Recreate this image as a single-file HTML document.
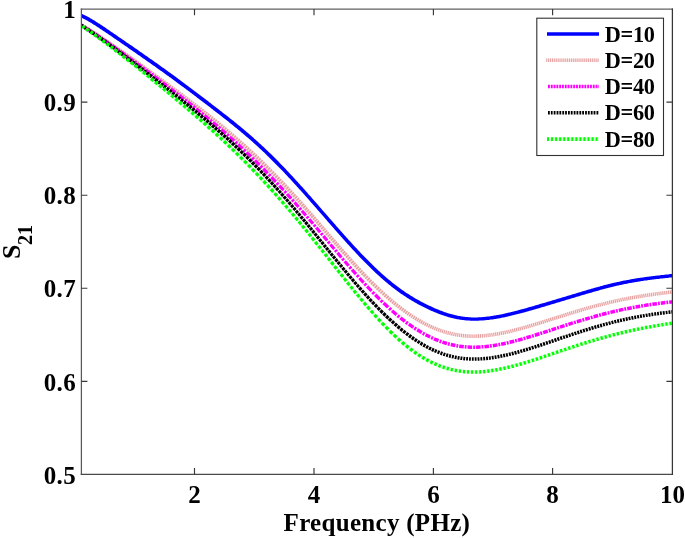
<!DOCTYPE html>
<html><head><meta charset="utf-8"><title>S21 vs Frequency</title>
<style>
html,body{margin:0;padding:0;background:#fff;}
svg{display:block}
text{font-family:"Liberation Serif",serif;font-weight:bold;fill:#000}
</style></head><body>
<svg width="685" height="538" viewBox="0 0 685 538">
<rect width="685" height="538" fill="#fff"/>
<clipPath id="ax"><rect x="81.4" y="9.05" width="591.0" height="465.3"/></clipPath>

<g clip-path="url(#ax)">
<path d="M79.4,22.2L80.4,22.8L81.4,23.5L82.4,24.2L83.4,24.8L84.4,25.5L85.4,26.2L86.4,26.9L87.4,27.6L88.4,28.2L89.4,28.9L90.4,29.6L91.4,30.3L92.4,31.0L93.4,31.8L94.4,32.5L95.4,33.2L96.4,33.9L97.4,34.6L98.4,35.3L99.4,36.1L100.4,36.8L101.4,37.5L102.4,38.3L103.4,39.0L104.4,39.8L105.4,40.5L106.4,41.2L107.4,42.0L108.5,42.7L109.5,43.5L110.5,44.3L111.5,45.0L112.5,45.8L113.5,46.5L114.5,47.3L115.5,48.1L116.5,48.8L117.5,49.6L118.5,50.4L119.5,51.1L120.5,51.9L121.5,52.7L122.5,53.5L123.5,54.3L124.5,55.0L125.5,55.8L126.5,56.6L127.5,57.4L128.5,58.2L129.5,59.0L130.5,59.8L131.5,60.5L132.5,61.3L133.5,62.1L134.5,62.9L135.5,63.7L136.5,64.5L137.5,65.3L138.5,66.1L139.5,66.9L140.5,67.7L141.5,68.5L142.5,69.3L143.5,70.1L144.5,70.9L145.5,71.8L146.5,72.6L147.5,73.4L148.5,74.2L149.5,75.0L150.5,75.8L151.5,76.6L152.5,77.4L153.5,78.2L154.5,79.1L155.5,79.9L156.5,80.7L157.5,81.5L158.5,82.3L159.5,83.2L160.5,84.0L161.5,84.8L162.5,85.6L163.5,86.4L164.5,87.3L165.5,88.1L166.5,88.9L167.5,89.8L168.5,90.6L169.5,91.4L170.5,92.2L171.5,93.1L172.5,93.9L173.5,94.7L174.5,95.6L175.5,96.4L176.5,97.3L177.5,98.1L178.5,98.9L179.5,99.8L180.5,100.6L181.5,101.5L182.5,102.3L183.5,103.2L184.5,104.0L185.5,104.8L186.5,105.7L187.5,106.5L188.5,107.4L189.5,108.3L190.5,109.1L191.5,110.0L192.5,110.8L193.5,111.7L194.5,112.6L195.5,113.4L196.5,114.3L197.5,115.2L198.5,116.0L199.5,116.9L200.5,117.8L201.5,118.7L202.5,119.5L203.5,120.4L204.5,121.3L205.5,122.2L206.5,123.1L207.5,124.0L208.5,124.8L209.5,125.7L210.5,126.6L211.5,127.5L212.5,128.4L213.5,129.3L214.5,130.3L215.5,131.2L216.5,132.1L217.5,133.0L218.5,133.9L219.5,134.8L220.5,135.8L221.5,136.7L222.5,137.6L223.5,138.6L224.5,139.5L225.5,140.4L226.6,141.4L227.6,142.3L228.6,143.3L229.6,144.2L230.6,145.2L231.6,146.1L232.6,147.1L233.6,148.1L234.6,149.0L235.6,150.0L236.6,151.0L237.6,152.0L238.6,152.9L239.6,153.9L240.6,154.9L241.6,155.9L242.6,156.9L243.6,157.9L244.6,158.9L245.6,159.9L246.6,160.9L247.6,161.9L248.6,163.0L249.6,164.0L250.6,165.0L251.6,166.0L252.6,167.1L253.6,168.1L254.6,169.2L255.6,170.2L256.6,171.2L257.6,172.3L258.6,173.4L259.6,174.4L260.6,175.5L261.6,176.6L262.6,177.6L263.6,178.7L264.6,179.8L265.6,180.9L266.6,181.9L267.6,183.0L268.6,184.1L269.6,185.2L270.6,186.3L271.6,187.4L272.6,188.6L273.6,189.7L274.6,190.8L275.6,191.9L276.6,193.0L277.6,194.2L278.6,195.3L279.6,196.4L280.6,197.6L281.6,198.7L282.6,199.9L283.6,201.0L284.6,202.2L285.6,203.3L286.6,204.5L287.6,205.7L288.6,206.9L289.6,208.0L290.6,209.2L291.6,210.4L292.6,211.6L293.6,212.8L294.6,214.0L295.6,215.2L296.6,216.4L297.6,217.6L298.6,218.8L299.6,220.0L300.6,221.2L301.6,222.4L302.6,223.6L303.6,224.9L304.6,226.1L305.6,227.3L306.6,228.5L307.6,229.8L308.6,231.0L309.6,232.3L310.6,233.5L311.6,234.8L312.6,236.0L313.6,237.2L314.7,238.5L315.7,239.8L316.7,241.0L317.7,242.3L318.7,243.5L319.7,244.8L320.7,246.1L321.7,247.3L322.7,248.6L323.7,249.8L324.7,251.1L325.7,252.4L326.7,253.6L327.7,254.9L328.7,256.2L329.7,257.5L330.7,258.7L331.7,260.0L332.7,261.3L333.7,262.5L334.7,263.8L335.7,265.1L336.7,266.3L337.7,267.6L338.7,268.9L339.7,270.1L340.7,271.4L341.7,272.7L342.7,273.9L343.7,275.2L344.7,276.4L345.7,277.7L346.7,278.9L347.6,280.2L348.6,281.4L349.6,282.7L350.6,283.9L351.6,285.2L352.6,286.4L353.6,287.6L354.6,288.9L355.6,290.1L356.6,291.3L357.6,292.5L358.6,293.8L359.6,295.0L360.6,296.2L361.6,297.4L362.6,298.6L363.6,299.8L364.6,300.9L365.6,302.1L366.6,303.3L367.6,304.5L368.6,305.6L369.6,306.8L370.6,307.9L371.6,309.1L372.6,310.2L373.6,311.4L374.6,312.5L375.6,313.6L376.6,314.7L377.6,315.8L378.6,316.9L379.6,318.0L380.6,319.1L381.6,320.2L382.6,321.2L383.6,322.3L384.6,323.3L385.6,324.4L386.6,325.4L387.6,326.4L388.6,327.4L389.6,328.4L390.6,329.4L391.6,330.4L392.6,331.3L393.6,332.3L394.6,333.2L395.6,334.2L396.5,335.1L397.5,336.0L398.5,336.9L399.5,337.8L400.5,338.7L401.5,339.6L402.5,340.4L403.5,341.3L404.5,342.1L405.5,343.0L406.5,343.8L407.5,344.6L408.5,345.4L409.5,346.1L410.5,346.9L411.5,347.7L412.4,348.4L413.4,349.1L414.4,349.9L415.4,350.6L416.4,351.3L417.4,352.0L418.4,352.6L419.4,353.3L420.4,353.9L421.3,354.6L422.3,355.2L423.3,355.8L424.3,356.4L425.3,357.0L426.3,357.5L427.3,358.1L428.2,358.6L429.2,359.2L430.2,359.7L431.2,360.2L432.2,360.7L433.2,361.2L434.1,361.6L435.1,362.1L436.1,362.5L437.1,362.9L438.1,363.4L439.1,363.8L440.0,364.1L441.0,364.5L442.0,364.9L443.0,365.2L444.0,365.6L444.9,365.9L445.9,366.2L446.9,366.5L447.9,366.8L448.9,367.1L449.8,367.4L450.8,367.6L451.8,367.9L452.8,368.1L453.8,368.3L454.8,368.5L455.7,368.7L456.7,368.9L457.7,369.1L458.7,369.2L459.7,369.4L460.6,369.5L461.6,369.6L462.6,369.7L463.6,369.9L464.6,369.9L465.5,370.0L466.5,370.1L467.5,370.2L468.5,370.2L469.5,370.3L470.4,370.3L471.4,370.3L472.4,370.3L473.4,370.3L474.4,370.3L475.4,370.3L476.3,370.3L477.3,370.3L478.3,370.2L479.3,370.2L480.3,370.1L481.3,370.0L482.3,370.0L483.2,369.9L484.2,369.8L485.2,369.7L486.2,369.6L487.2,369.5L488.2,369.3L489.2,369.2L490.2,369.1L491.1,368.9L492.1,368.8L493.1,368.6L494.1,368.5L495.1,368.3L496.1,368.1L497.1,368.0L498.1,367.8L499.1,367.6L500.1,367.4L501.0,367.2L502.0,367.0L503.0,366.7L504.0,366.5L505.0,366.3L506.0,366.1L507.0,365.8L508.0,365.6L509.0,365.4L510.0,365.1L511.0,364.9L512.0,364.6L513.0,364.3L513.9,364.1L514.9,363.8L515.9,363.5L516.9,363.3L517.9,363.0L518.9,362.7L519.9,362.4L520.9,362.1L521.9,361.8L522.9,361.5L523.9,361.2L524.9,360.9L525.9,360.6L526.9,360.3L527.9,360.0L528.9,359.7L529.9,359.4L530.9,359.1L531.9,358.8L532.9,358.4L533.9,358.1L534.9,357.8L535.9,357.5L536.9,357.2L537.9,356.8L538.9,356.5L539.8,356.2L540.8,355.8L541.8,355.5L542.8,355.2L543.8,354.8L544.8,354.5L545.8,354.2L546.8,353.8L547.8,353.5L548.8,353.1L549.8,352.8L550.8,352.5L551.8,352.1L552.8,351.8L553.8,351.5L554.8,351.1L555.8,350.8L556.8,350.4L557.8,350.1L558.8,349.8L559.8,349.4L560.8,349.1L561.8,348.7L562.8,348.4L563.8,348.1L564.8,347.7L565.8,347.4L566.8,347.1L567.8,346.7L568.8,346.4L569.8,346.1L570.8,345.7L571.9,345.4L572.9,345.1L573.9,344.7L574.9,344.4L575.9,344.1L576.9,343.7L577.9,343.4L578.9,343.1L579.9,342.8L580.9,342.5L581.9,342.1L582.9,341.8L583.9,341.5L584.9,341.2L585.9,340.9L586.9,340.6L587.9,340.3L588.9,339.9L589.9,339.6L590.9,339.3L591.9,339.0L592.9,338.7L593.9,338.4L594.9,338.1L595.9,337.8L596.9,337.6L597.9,337.3L598.9,337.0L599.9,336.7L600.9,336.4L601.9,336.1L602.9,335.8L603.9,335.6L604.9,335.3L605.9,335.0L606.9,334.7L607.9,334.5L609.0,334.2L610.0,333.9L611.0,333.7L612.0,333.4L613.0,333.1L614.0,332.9L615.0,332.6L616.0,332.4L617.0,332.1L618.0,331.9L619.0,331.6L620.0,331.4L621.0,331.2L622.0,330.9L623.0,330.7L624.0,330.4L625.0,330.2L626.0,330.0L627.0,329.7L628.0,329.5L629.0,329.3L630.0,329.1L631.0,328.9L632.0,328.6L633.0,328.4L634.0,328.2L635.0,328.0L636.0,327.8L637.0,327.6L638.1,327.4L639.1,327.2L640.1,327.0L641.1,326.8L642.1,326.6L643.1,326.4L644.1,326.2L645.1,326.0L646.1,325.8L647.1,325.6L648.1,325.4L649.1,325.3L650.1,325.1L651.1,324.9L652.1,324.7L653.1,324.5L654.1,324.4L655.1,324.2L656.1,324.0L657.1,323.8L658.1,323.7L659.1,323.5L660.1,323.3L661.1,323.2L662.1,323.0L663.1,322.8L664.1,322.7L665.1,322.5L666.1,322.3L667.1,322.2L668.1,322.0L669.1,321.9L670.1,321.7L671.1,321.6L672.1,321.4L673.1,321.2L674.1,321.1L675.1,320.9L675.7,324.4L674.7,324.5L673.7,324.7L672.7,324.9L671.7,325.0L670.7,325.2L669.7,325.3L668.7,325.5L667.7,325.6L666.7,325.8L665.7,326.0L664.7,326.1L663.7,326.3L662.7,326.5L661.7,326.6L660.7,326.8L659.7,326.9L658.7,327.1L657.7,327.3L656.7,327.5L655.7,327.6L654.7,327.8L653.7,328.0L652.7,328.2L651.7,328.3L650.7,328.5L649.7,328.7L648.7,328.9L647.7,329.1L646.7,329.3L645.7,329.4L644.7,329.6L643.7,329.8L642.7,330.0L641.7,330.2L640.7,330.4L639.7,330.6L638.7,330.8L637.8,331.0L636.8,331.2L635.8,331.4L634.8,331.6L633.8,331.8L632.8,332.1L631.8,332.3L630.8,332.5L629.8,332.7L628.8,332.9L627.8,333.2L626.8,333.4L625.8,333.6L624.8,333.8L623.8,334.1L622.8,334.3L621.8,334.6L620.8,334.8L619.8,335.0L618.8,335.3L617.8,335.5L616.8,335.8L615.8,336.0L614.8,336.3L613.8,336.5L612.8,336.8L611.8,337.1L610.8,337.3L609.8,337.6L608.9,337.8L607.9,338.1L606.9,338.4L605.9,338.7L604.9,338.9L603.9,339.2L602.9,339.5L601.9,339.8L600.9,340.1L599.9,340.3L598.9,340.6L597.9,340.9L596.9,341.2L595.9,341.5L594.9,341.8L593.9,342.1L592.9,342.4L591.9,342.7L590.9,343.0L589.9,343.3L588.9,343.6L587.9,343.9L586.9,344.2L585.9,344.5L584.9,344.8L583.9,345.2L582.9,345.5L581.9,345.8L580.9,346.1L579.9,346.4L578.9,346.8L577.9,347.1L576.9,347.4L575.9,347.7L574.9,348.1L573.9,348.4L572.9,348.7L572.0,349.0L571.0,349.4L570.0,349.7L569.0,350.0L568.0,350.4L567.0,350.7L566.0,351.0L565.0,351.4L564.0,351.7L563.0,352.1L562.0,352.4L561.0,352.7L560.0,353.1L559.0,353.4L558.0,353.7L557.0,354.1L556.0,354.4L555.0,354.8L554.0,355.1L553.0,355.4L552.0,355.8L551.0,356.1L550.0,356.5L549.0,356.8L548.0,357.1L547.0,357.5L546.0,357.8L545.0,358.2L544.0,358.5L543.0,358.8L542.0,359.2L541.0,359.5L539.9,359.8L538.9,360.1L537.9,360.5L536.9,360.8L535.9,361.1L534.9,361.5L533.9,361.8L532.9,362.1L531.9,362.4L530.9,362.7L529.9,363.0L528.9,363.4L527.9,363.7L526.9,364.0L525.9,364.3L524.9,364.6L523.9,364.9L522.9,365.2L521.9,365.5L520.9,365.8L519.9,366.1L518.9,366.3L517.9,366.6L516.9,366.9L515.9,367.2L514.9,367.5L513.8,367.7L512.8,368.0L511.8,368.2L510.8,368.5L509.8,368.8L508.8,369.0L507.8,369.2L506.8,369.5L505.8,369.7L504.8,369.9L503.8,370.2L502.8,370.4L501.8,370.6L500.7,370.8L499.7,371.0L498.7,371.2L497.7,371.4L496.7,371.6L495.7,371.8L494.7,371.9L493.7,372.1L492.7,372.3L491.7,372.4L490.6,372.6L489.6,372.7L488.6,372.8L487.6,372.9L486.6,373.1L485.6,373.2L484.6,373.3L483.6,373.4L482.5,373.5L481.5,373.5L480.5,373.6L479.5,373.7L478.5,373.7L477.5,373.8L476.5,373.8L475.4,373.8L474.4,373.8L473.4,373.8L472.4,373.8L471.4,373.8L470.4,373.8L469.3,373.8L468.3,373.7L467.3,373.7L466.3,373.6L465.3,373.5L464.2,373.4L463.2,373.3L462.2,373.2L461.2,373.1L460.2,373.0L459.1,372.8L458.1,372.7L457.1,372.5L456.1,372.3L455.1,372.1L454.0,371.9L453.0,371.7L452.0,371.5L451.0,371.3L450.0,371.0L449.0,370.7L447.9,370.5L446.9,370.2L445.9,369.9L444.9,369.6L443.9,369.2L442.8,368.9L441.8,368.5L440.8,368.2L439.8,367.8L438.8,367.4L437.7,367.0L436.7,366.6L435.7,366.2L434.7,365.7L433.7,365.3L432.7,364.8L431.6,364.3L430.6,363.8L429.6,363.3L428.6,362.8L427.6,362.3L426.6,361.7L425.5,361.1L424.5,360.6L423.5,360.0L422.5,359.4L421.5,358.8L420.5,358.2L419.5,357.5L418.4,356.9L417.4,356.2L416.4,355.5L415.4,354.8L414.4,354.1L413.4,353.4L412.4,352.7L411.4,352.0L410.4,351.2L409.3,350.4L408.3,349.7L407.3,348.9L406.3,348.1L405.3,347.3L404.3,346.4L403.3,345.6L402.3,344.8L401.3,343.9L400.3,343.0L399.3,342.1L398.3,341.3L397.3,340.4L396.3,339.4L395.3,338.5L394.3,337.6L393.2,336.6L392.2,335.7L391.2,334.7L390.2,333.7L389.2,332.7L388.2,331.7L387.2,330.7L386.2,329.7L385.2,328.7L384.2,327.7L383.2,326.6L382.2,325.6L381.2,324.5L380.2,323.4L379.2,322.4L378.2,321.3L377.2,320.2L376.2,319.1L375.2,318.0L374.2,316.9L373.2,315.8L372.2,314.6L371.2,313.5L370.2,312.3L369.2,311.2L368.2,310.0L367.2,308.9L366.2,307.7L365.2,306.6L364.2,305.4L363.2,304.2L362.2,303.0L361.2,301.8L360.2,300.6L359.2,299.4L358.2,298.2L357.2,297.0L356.2,295.8L355.2,294.6L354.2,293.3L353.2,292.1L352.2,290.9L351.2,289.7L350.2,288.4L349.2,287.2L348.2,285.9L347.2,284.7L346.2,283.4L345.2,282.2L344.1,280.9L343.1,279.7L342.1,278.4L341.1,277.2L340.1,275.9L339.1,274.6L338.1,273.4L337.1,272.1L336.1,270.9L335.1,269.6L334.1,268.3L333.1,267.1L332.1,265.8L331.1,264.5L330.1,263.2L329.1,262.0L328.1,260.7L327.1,259.4L326.1,258.2L325.1,256.9L324.1,255.6L323.1,254.4L322.1,253.1L321.1,251.8L320.1,250.6L319.1,249.3L318.1,248.0L317.1,246.8L316.1,245.5L315.1,244.3L314.1,243.0L313.1,241.7L312.1,240.5L311.2,239.2L310.2,238.0L309.2,236.8L308.2,235.5L307.2,234.3L306.2,233.0L305.2,231.8L304.2,230.6L303.2,229.3L302.2,228.1L301.2,226.9L300.2,225.7L299.2,224.4L298.2,223.2L297.2,222.0L296.2,220.8L295.2,219.6L294.2,218.4L293.2,217.2L292.2,216.0L291.2,214.8L290.2,213.6L289.2,212.5L288.2,211.3L287.2,210.1L286.2,208.9L285.2,207.8L284.2,206.6L283.2,205.4L282.2,204.3L281.2,203.1L280.2,202.0L279.2,200.8L278.2,199.7L277.2,198.6L276.2,197.4L275.2,196.3L274.2,195.2L273.2,194.1L272.2,192.9L271.2,191.8L270.2,190.7L269.2,189.6L268.2,188.5L267.2,187.4L266.2,186.3L265.2,185.2L264.2,184.1L263.2,183.1L262.2,182.0L261.2,180.9L260.2,179.8L259.2,178.8L258.2,177.7L257.2,176.7L256.2,175.6L255.2,174.6L254.2,173.5L253.2,172.5L252.2,171.4L251.2,170.4L250.2,169.4L249.2,168.3L248.2,167.3L247.2,166.3L246.2,165.3L245.2,164.3L244.2,163.3L243.2,162.3L242.2,161.2L241.2,160.3L240.2,159.3L239.2,158.3L238.2,157.3L237.2,156.3L236.2,155.3L235.2,154.3L234.2,153.4L233.2,152.4L232.2,151.4L231.2,150.5L230.2,149.5L229.2,148.5L228.2,147.6L227.2,146.6L226.2,145.7L225.2,144.8L224.2,143.8L223.3,142.9L222.3,141.9L221.3,141.0L220.3,140.1L219.3,139.2L218.3,138.2L217.3,137.3L216.3,136.4L215.3,135.5L214.3,134.6L213.3,133.7L212.3,132.8L211.3,131.9L210.3,131.0L209.3,130.1L208.3,129.2L207.3,128.3L206.3,127.4L205.3,126.5L204.3,125.6L203.3,124.7L202.3,123.8L201.3,123.0L200.3,122.1L199.3,121.2L198.3,120.3L197.3,119.5L196.3,118.6L195.3,117.7L194.3,116.9L193.3,116.0L192.3,115.1L191.3,114.3L190.3,113.4L189.3,112.6L188.3,111.7L187.3,110.9L186.3,110.0L185.3,109.2L184.3,108.3L183.3,107.5L182.3,106.6L181.3,105.8L180.3,104.9L179.3,104.1L178.3,103.2L177.3,102.4L176.3,101.6L175.3,100.7L174.3,99.9L173.3,99.1L172.3,98.2L171.3,97.4L170.3,96.6L169.3,95.7L168.3,94.9L167.3,94.1L166.3,93.2L165.3,92.4L164.3,91.6L163.3,90.8L162.3,89.9L161.3,89.1L160.3,88.3L159.3,87.5L158.3,86.6L157.3,85.8L156.3,85.0L155.3,84.2L154.3,83.4L153.3,82.6L152.3,81.7L151.3,80.9L150.3,80.1L149.3,79.3L148.3,78.5L147.3,77.7L146.3,76.9L145.3,76.1L144.3,75.3L143.3,74.4L142.3,73.6L141.3,72.8L140.3,72.0L139.3,71.2L138.3,70.4L137.3,69.6L136.3,68.8L135.3,68.0L134.3,67.2L133.3,66.4L132.3,65.6L131.3,64.9L130.3,64.1L129.3,63.3L128.3,62.5L127.3,61.7L126.3,60.9L125.3,60.1L124.3,59.3L123.3,58.6L122.3,57.8L121.3,57.0L120.3,56.2L119.3,55.4L118.3,54.7L117.3,53.9L116.3,53.1L115.3,52.4L114.3,51.6L113.3,50.8L112.3,50.1L111.3,49.3L110.3,48.6L109.3,47.8L108.3,47.0L107.3,46.3L106.3,45.5L105.4,44.8L104.4,44.0L103.4,43.3L102.4,42.6L101.4,41.8L100.4,41.1L99.4,40.4L98.4,39.6L97.4,38.9L96.4,38.2L95.4,37.5L94.4,36.7L93.4,36.0L92.4,35.3L91.4,34.6L90.4,33.9L89.4,33.2L88.4,32.5L87.4,31.8L86.4,31.1L85.4,30.4L84.4,29.8L83.4,29.1L82.4,28.4L81.4,27.7L80.4,27.1L79.4,26.4L78.4,25.7L77.4,25.1Z" fill="#dffcdf"/>
<path d="M79.3,21.6L80.3,22.2L81.3,22.8L82.3,23.4L83.3,24.0L84.3,24.6L85.3,25.2L86.3,25.8L87.3,26.5L88.4,27.1L89.4,27.7L90.4,28.3L91.4,29.0L92.4,29.6L93.4,30.3L94.4,30.9L95.4,31.6L96.4,32.2L97.4,32.9L98.4,33.5L99.4,34.2L100.4,34.8L101.4,35.5L102.4,36.1L103.4,36.8L104.4,37.5L105.4,38.1L106.4,38.8L107.4,39.5L108.4,40.2L109.4,40.8L110.4,41.5L111.4,42.2L112.4,42.9L113.4,43.6L114.4,44.3L115.4,44.9L116.4,45.6L117.4,46.3L118.4,47.0L119.4,47.7L120.4,48.4L121.4,49.1L122.4,49.8L123.4,50.5L124.4,51.2L125.4,51.9L126.4,52.6L127.4,53.3L128.4,54.0L129.4,54.7L130.4,55.4L131.4,56.1L132.4,56.8L133.4,57.5L134.4,58.3L135.4,59.0L136.4,59.7L137.4,60.4L138.4,61.1L139.4,61.8L140.4,62.5L141.4,63.3L142.4,64.0L143.4,64.7L144.4,65.4L145.5,66.1L146.5,66.8L147.5,67.6L148.5,68.3L149.5,69.0L150.5,69.7L151.5,70.4L152.5,71.2L153.5,71.9L154.5,72.6L155.5,73.3L156.5,74.1L157.5,74.8L158.5,75.5L159.5,76.3L160.5,77.0L161.5,77.7L162.5,78.4L163.5,79.2L164.5,79.9L165.5,80.6L166.5,81.4L167.5,82.1L168.5,82.8L169.5,83.6L170.5,84.3L171.5,85.0L172.5,85.8L173.5,86.5L174.5,87.3L175.5,88.0L176.5,88.7L177.5,89.5L178.5,90.2L179.5,91.0L180.5,91.7L181.5,92.5L182.5,93.2L183.5,93.9L184.5,94.7L185.5,95.4L186.5,96.2L187.5,97.0L188.5,97.7L189.5,98.5L190.5,99.2L191.5,100.0L192.5,100.7L193.5,101.5L194.5,102.3L195.5,103.0L196.5,103.8L197.5,104.6L198.5,105.3L199.5,106.1L200.5,106.9L201.5,107.6L202.5,108.4L203.5,109.2L204.5,110.0L205.5,110.8L206.5,111.5L207.5,112.3L208.5,113.1L209.5,113.9L210.5,114.7L211.5,115.5L212.5,116.3L213.5,117.1L214.5,117.9L215.5,118.7L216.5,119.5L217.5,120.3L218.5,121.2L219.6,122.0L220.6,122.8L221.6,123.6L222.6,124.4L223.6,125.3L224.6,126.1L225.6,126.9L226.6,127.8L227.6,128.6L228.6,129.5L229.6,130.3L230.6,131.2L231.6,132.0L232.6,132.9L233.6,133.7L234.6,134.6L235.6,135.5L236.6,136.3L237.6,137.2L238.6,138.1L239.6,139.0L240.6,139.9L241.6,140.8L242.6,141.6L243.6,142.5L244.6,143.4L245.6,144.3L246.6,145.3L247.6,146.2L248.6,147.1L249.6,148.0L250.6,148.9L251.7,149.8L252.7,150.8L253.7,151.7L254.7,152.7L255.7,153.6L256.7,154.5L257.7,155.5L258.7,156.4L259.7,157.4L260.7,158.4L261.7,159.3L262.7,160.3L263.7,161.3L264.7,162.2L265.7,163.2L266.7,164.2L267.7,165.2L268.7,166.2L269.7,167.2L270.7,168.2L271.7,169.2L272.7,170.2L273.7,171.2L274.7,172.2L275.7,173.3L276.7,174.3L277.7,175.3L278.7,176.4L279.7,177.4L280.8,178.4L281.8,179.5L282.8,180.5L283.8,181.6L284.8,182.6L285.8,183.7L286.8,184.8L287.8,185.8L288.8,186.9L289.8,188.0L290.8,189.1L291.8,190.2L292.8,191.3L293.8,192.4L294.8,193.5L295.8,194.6L296.8,195.7L297.8,196.8L298.8,197.9L299.8,199.0L300.8,200.1L301.8,201.2L302.8,202.4L303.8,203.5L304.8,204.6L305.8,205.8L306.8,206.9L307.8,208.0L308.8,209.2L309.8,210.3L310.8,211.5L311.8,212.6L312.8,213.8L313.8,214.9L314.8,216.1L315.8,217.3L316.8,218.4L317.8,219.6L318.8,220.7L319.8,221.9L320.8,223.1L321.8,224.2L322.8,225.4L323.8,226.6L324.8,227.7L325.8,228.9L326.8,230.1L327.8,231.2L328.8,232.4L329.8,233.5L330.8,234.7L331.8,235.9L332.8,237.0L333.8,238.2L334.8,239.3L335.8,240.5L336.8,241.7L337.8,242.8L338.8,244.0L339.8,245.1L340.8,246.3L341.8,247.4L342.8,248.5L343.8,249.7L344.8,250.8L345.8,252.0L346.8,253.1L347.8,254.2L348.8,255.3L349.8,256.4L350.8,257.6L351.8,258.7L352.8,259.8L353.8,260.9L354.8,262.0L355.8,263.1L356.8,264.2L357.8,265.2L358.8,266.3L359.8,267.4L360.8,268.5L361.8,269.5L362.8,270.6L363.8,271.6L364.8,272.7L365.8,273.7L366.7,274.8L367.7,275.8L368.7,276.8L369.7,277.8L370.7,278.9L371.7,279.9L372.7,280.9L373.7,281.8L374.7,282.8L375.7,283.8L376.7,284.8L377.7,285.7L378.7,286.7L379.7,287.6L380.7,288.6L381.7,289.5L382.7,290.5L383.6,291.4L384.6,292.3L385.6,293.2L386.6,294.1L387.6,295.0L388.6,295.8L389.6,296.7L390.6,297.6L391.6,298.4L392.6,299.3L393.6,300.1L394.6,300.9L395.6,301.8L396.5,302.6L397.5,303.4L398.5,304.2L399.5,305.0L400.5,305.7L401.5,306.5L402.5,307.3L403.5,308.0L404.5,308.7L405.5,309.5L406.5,310.2L407.4,310.9L408.4,311.6L409.4,312.3L410.4,312.9L411.4,313.6L412.4,314.3L413.4,314.9L414.4,315.6L415.4,316.2L416.3,316.8L417.3,317.4L418.3,318.0L419.3,318.6L420.3,319.2L421.3,319.7L422.3,320.3L423.3,320.8L424.3,321.4L425.2,321.9L426.2,322.4L427.2,322.9L428.2,323.4L429.2,323.9L430.2,324.4L431.2,324.8L432.1,325.3L433.1,325.7L434.1,326.2L435.1,326.6L436.1,327.0L437.1,327.4L438.0,327.8L439.0,328.1L440.0,328.5L441.0,328.8L442.0,329.2L443.0,329.5L443.9,329.8L444.9,330.1L445.9,330.4L446.9,330.7L447.9,331.0L448.9,331.3L449.8,331.5L450.8,331.8L451.8,332.0L452.8,332.2L453.8,332.4L454.7,332.6L455.7,332.8L456.7,333.0L457.7,333.1L458.7,333.3L459.7,333.4L460.6,333.6L461.6,333.7L462.6,333.8L463.6,333.9L464.6,334.0L465.5,334.1L466.5,334.1L467.5,334.2L468.5,334.3L469.5,334.3L470.5,334.3L471.4,334.4L472.4,334.4L473.4,334.4L474.4,334.4L475.4,334.4L476.4,334.3L477.3,334.3L478.3,334.3L479.3,334.2L480.3,334.2L481.3,334.1L482.3,334.0L483.3,334.0L484.2,333.9L485.2,333.8L486.2,333.7L487.2,333.6L488.2,333.5L489.2,333.3L490.2,333.2L491.2,333.1L492.1,332.9L493.1,332.8L494.1,332.6L495.1,332.5L496.1,332.3L497.1,332.1L498.1,332.0L499.1,331.8L500.1,331.6L501.1,331.4L502.0,331.2L503.0,331.0L504.0,330.8L505.0,330.6L506.0,330.4L507.0,330.2L508.0,329.9L509.0,329.7L510.0,329.5L511.0,329.2L512.0,329.0L513.0,328.7L514.0,328.5L515.0,328.2L515.9,328.0L516.9,327.7L517.9,327.4L518.9,327.2L519.9,326.9L520.9,326.6L521.9,326.4L522.9,326.1L523.9,325.8L524.9,325.5L525.9,325.2L526.9,324.9L527.9,324.7L528.9,324.4L529.9,324.1L530.9,323.8L531.9,323.5L532.9,323.2L533.9,322.9L534.9,322.6L535.9,322.3L536.9,321.9L537.9,321.6L538.9,321.3L539.9,321.0L540.9,320.7L541.9,320.4L542.9,320.1L543.9,319.8L544.9,319.5L545.9,319.1L546.9,318.8L547.9,318.5L548.9,318.2L549.9,317.9L550.9,317.6L551.9,317.2L552.9,316.9L553.9,316.6L554.9,316.3L555.9,316.0L556.9,315.6L557.9,315.3L558.9,315.0L559.9,314.7L560.9,314.4L561.9,314.1L562.9,313.7L563.9,313.4L564.9,313.1L565.9,312.8L566.9,312.5L567.9,312.2L568.9,311.9L569.9,311.6L570.9,311.2L571.9,310.9L572.9,310.6L573.9,310.3L574.9,310.0L575.9,309.7L576.9,309.4L577.9,309.1L578.9,308.8L579.9,308.5L580.9,308.2L581.9,307.9L582.9,307.6L583.9,307.4L584.9,307.1L585.9,306.8L586.9,306.5L587.9,306.2L588.9,305.9L589.9,305.6L590.9,305.4L591.9,305.1L592.9,304.8L593.9,304.5L594.9,304.3L595.9,304.0L596.9,303.7L597.9,303.5L598.9,303.2L600.0,303.0L601.0,302.7L602.0,302.4L603.0,302.2L604.0,301.9L605.0,301.7L606.0,301.4L607.0,301.2L608.0,301.0L609.0,300.7L610.0,300.5L611.0,300.2L612.0,300.0L613.0,299.8L614.0,299.6L615.0,299.3L616.0,299.1L617.0,298.9L618.0,298.7L619.0,298.5L620.0,298.2L621.0,298.0L622.0,297.8L623.0,297.6L624.0,297.4L625.0,297.2L626.1,297.0L627.1,296.8L628.1,296.6L629.1,296.4L630.1,296.2L631.1,296.1L632.1,295.9L633.1,295.7L634.1,295.5L635.1,295.3L636.1,295.2L637.1,295.0L638.1,294.8L639.1,294.7L640.1,294.5L641.1,294.3L642.1,294.2L643.1,294.0L644.1,293.8L645.1,293.7L646.1,293.5L647.1,293.4L648.1,293.2L649.1,293.1L650.1,292.9L651.1,292.8L652.2,292.7L653.2,292.5L654.2,292.4L655.2,292.2L656.2,292.1L657.2,292.0L658.2,291.9L659.2,291.7L660.2,291.6L661.2,291.5L662.2,291.4L663.2,291.2L664.2,291.1L665.2,291.0L666.2,290.9L667.2,290.8L668.2,290.6L669.2,290.5L670.2,290.4L671.2,290.3L672.2,290.2L673.2,290.1L674.2,290.0L675.2,289.9L675.6,293.4L674.6,293.6L673.6,293.7L672.6,293.8L671.6,293.9L670.6,294.0L669.6,294.1L668.6,294.2L667.6,294.3L666.6,294.4L665.6,294.6L664.6,294.7L663.6,294.8L662.6,294.9L661.6,295.0L660.6,295.2L659.6,295.3L658.6,295.4L657.6,295.6L656.6,295.7L655.6,295.8L654.6,296.0L653.6,296.1L652.6,296.2L651.7,296.4L650.7,296.5L649.7,296.7L648.7,296.8L647.7,296.9L646.7,297.1L645.7,297.2L644.7,297.4L643.7,297.6L642.7,297.7L641.7,297.9L640.7,298.0L639.7,298.2L638.7,298.4L637.7,298.5L636.7,298.7L635.7,298.9L634.7,299.1L633.7,299.2L632.7,299.4L631.7,299.6L630.7,299.8L629.7,300.0L628.7,300.2L627.7,300.4L626.7,300.5L625.8,300.7L624.8,300.9L623.8,301.1L622.8,301.4L621.8,301.6L620.8,301.8L619.8,302.0L618.8,302.2L617.8,302.4L616.8,302.6L615.8,302.8L614.8,303.1L613.8,303.3L612.8,303.5L611.8,303.8L610.8,304.0L609.8,304.2L608.8,304.5L607.8,304.7L606.8,304.9L605.8,305.2L604.8,305.4L603.8,305.7L602.8,305.9L601.8,306.2L600.8,306.4L599.9,306.7L598.9,307.0L597.9,307.2L596.9,307.5L595.9,307.8L594.9,308.0L593.9,308.3L592.9,308.6L591.9,308.8L590.9,309.1L589.9,309.4L588.9,309.7L587.9,310.0L586.9,310.2L585.9,310.5L584.9,310.8L583.9,311.1L582.9,311.4L581.9,311.7L580.9,312.0L579.9,312.3L578.9,312.6L577.9,312.9L576.9,313.2L575.9,313.5L574.9,313.8L573.9,314.1L572.9,314.4L571.9,314.7L570.9,315.0L569.9,315.3L568.9,315.6L567.9,315.9L566.9,316.2L565.9,316.5L564.9,316.9L563.9,317.2L562.9,317.5L561.9,317.8L560.9,318.1L559.9,318.4L558.9,318.8L557.9,319.1L556.9,319.4L555.9,319.7L554.9,320.0L553.9,320.3L552.9,320.7L551.9,321.0L550.9,321.3L549.9,321.6L548.9,321.9L547.9,322.3L546.9,322.6L545.9,322.9L544.9,323.2L543.9,323.5L542.9,323.8L541.9,324.1L540.9,324.5L539.9,324.8L538.9,325.1L537.9,325.4L536.9,325.7L535.9,326.0L534.9,326.3L533.9,326.6L532.9,326.9L531.9,327.2L530.9,327.5L529.9,327.8L528.9,328.1L527.9,328.4L526.9,328.7L525.9,329.0L524.9,329.3L523.9,329.5L522.9,329.8L521.9,330.1L520.9,330.4L519.9,330.7L518.9,330.9L517.9,331.2L516.9,331.5L515.8,331.7L514.8,332.0L513.8,332.2L512.8,332.5L511.8,332.7L510.8,333.0L509.8,333.2L508.8,333.4L507.8,333.7L506.8,333.9L505.8,334.1L504.8,334.3L503.8,334.5L502.8,334.7L501.7,334.9L500.7,335.1L499.7,335.3L498.7,335.5L497.7,335.7L496.7,335.9L495.7,336.0L494.7,336.2L493.7,336.4L492.7,336.5L491.6,336.6L490.6,336.8L489.6,336.9L488.6,337.0L487.6,337.2L486.6,337.3L485.6,337.4L484.6,337.5L483.5,337.5L482.5,337.6L481.5,337.7L480.5,337.8L479.5,337.8L478.5,337.9L477.5,337.9L476.4,337.9L475.4,338.0L474.4,338.0L473.4,338.0L472.4,338.0L471.4,338.0L470.3,337.9L469.3,337.9L468.3,337.9L467.3,337.8L466.3,337.7L465.3,337.7L464.2,337.6L463.2,337.5L462.2,337.4L461.2,337.3L460.2,337.1L459.1,337.0L458.1,336.8L457.1,336.7L456.1,336.5L455.1,336.3L454.1,336.1L453.0,335.9L452.0,335.7L451.0,335.5L450.0,335.3L449.0,335.0L447.9,334.7L446.9,334.5L445.9,334.2L444.9,333.9L443.9,333.6L442.9,333.3L441.8,332.9L440.8,332.6L439.8,332.2L438.8,331.9L437.8,331.5L436.8,331.1L435.7,330.7L434.7,330.3L433.7,329.9L432.7,329.5L431.7,329.0L430.7,328.6L429.6,328.1L428.6,327.6L427.6,327.1L426.6,326.6L425.6,326.1L424.6,325.6L423.6,325.1L422.5,324.6L421.5,324.0L420.5,323.4L419.5,322.9L418.5,322.3L417.5,321.7L416.5,321.1L415.5,320.5L414.5,319.9L413.4,319.2L412.4,318.6L411.4,317.9L410.4,317.3L409.4,316.6L408.4,315.9L407.4,315.2L406.4,314.5L405.4,313.8L404.3,313.1L403.3,312.4L402.3,311.6L401.3,310.9L400.3,310.1L399.3,309.4L398.3,308.6L397.3,307.8L396.3,307.0L395.3,306.2L394.3,305.4L393.2,304.6L392.2,303.7L391.2,302.9L390.2,302.1L389.2,301.2L388.2,300.3L387.2,299.5L386.2,298.6L385.2,297.7L384.2,296.8L383.2,295.9L382.2,295.0L381.2,294.1L380.1,293.2L379.1,292.2L378.1,291.3L377.1,290.3L376.1,289.4L375.1,288.4L374.1,287.4L373.1,286.5L372.1,285.5L371.1,284.5L370.1,283.5L369.1,282.5L368.1,281.5L367.1,280.5L366.1,279.4L365.1,278.4L364.1,277.4L363.0,276.3L362.0,275.3L361.0,274.2L360.0,273.2L359.0,272.1L358.0,271.0L357.0,270.0L356.0,268.9L355.0,267.8L354.0,266.7L353.0,265.6L352.0,264.5L351.0,263.4L350.0,262.3L349.0,261.2L348.0,260.1L347.0,259.0L346.0,257.8L345.0,256.7L344.0,255.6L343.0,254.5L342.0,253.3L341.0,252.2L340.0,251.0L339.0,249.9L338.0,248.8L337.0,247.6L336.0,246.5L335.0,245.3L334.0,244.1L333.0,243.0L332.0,241.8L331.0,240.7L330.0,239.5L329.0,238.3L328.0,237.2L327.0,236.0L326.0,234.9L325.0,233.7L324.0,232.5L323.0,231.4L322.0,230.2L321.0,229.0L320.0,227.9L319.0,226.7L318.0,225.5L317.0,224.4L316.0,223.2L315.0,222.1L314.0,220.9L313.0,219.7L312.0,218.6L311.0,217.4L310.0,216.3L309.0,215.1L308.0,214.0L307.0,212.8L306.0,211.7L305.0,210.5L304.0,209.4L303.0,208.3L302.0,207.1L301.0,206.0L300.0,204.9L299.0,203.8L298.0,202.6L297.0,201.5L296.0,200.4L295.0,199.3L294.0,198.2L293.0,197.1L292.0,196.0L291.0,194.9L290.0,193.8L289.0,192.7L288.0,191.6L287.0,190.6L286.0,189.5L285.0,188.4L284.0,187.3L283.0,186.3L282.0,185.2L281.0,184.2L280.0,183.1L279.0,182.1L278.0,181.0L277.1,180.0L276.1,179.0L275.1,177.9L274.1,176.9L273.1,175.9L272.1,174.9L271.1,173.8L270.1,172.8L269.1,171.8L268.1,170.8L267.1,169.8L266.1,168.8L265.1,167.8L264.1,166.9L263.1,165.9L262.1,164.9L261.1,163.9L260.1,163.0L259.1,162.0L258.1,161.0L257.1,160.1L256.1,159.1L255.1,158.2L254.1,157.2L253.1,156.3L252.1,155.3L251.1,154.4L250.1,153.5L249.1,152.6L248.2,151.6L247.2,150.7L246.2,149.8L245.2,148.9L244.2,148.0L243.2,147.1L242.2,146.2L241.2,145.3L240.2,144.4L239.2,143.5L238.2,142.6L237.2,141.7L236.2,140.9L235.2,140.0L234.2,139.1L233.2,138.2L232.2,137.4L231.2,136.5L230.2,135.7L229.2,134.8L228.2,133.9L227.2,133.1L226.2,132.3L225.2,131.4L224.2,130.6L223.2,129.7L222.2,128.9L221.2,128.1L220.2,127.3L219.2,126.4L218.2,125.6L217.2,124.8L216.3,124.0L215.3,123.2L214.3,122.4L213.3,121.5L212.3,120.7L211.3,119.9L210.3,119.1L209.3,118.3L208.3,117.5L207.3,116.8L206.3,116.0L205.3,115.2L204.3,114.4L203.3,113.6L202.3,112.8L201.3,112.0L200.3,111.3L199.3,110.5L198.3,109.7L197.3,109.0L196.3,108.2L195.3,107.4L194.3,106.7L193.3,105.9L192.3,105.1L191.3,104.4L190.3,103.6L189.3,102.8L188.3,102.1L187.3,101.3L186.3,100.6L185.3,99.8L184.3,99.1L183.3,98.3L182.3,97.6L181.3,96.8L180.3,96.1L179.3,95.3L178.3,94.6L177.3,93.9L176.3,93.1L175.3,92.4L174.3,91.6L173.3,90.9L172.3,90.1L171.3,89.4L170.3,88.7L169.3,87.9L168.3,87.2L167.3,86.5L166.3,85.7L165.3,85.0L164.3,84.3L163.3,83.5L162.3,82.8L161.3,82.1L160.3,81.3L159.3,80.6L158.3,79.9L157.3,79.2L156.3,78.4L155.3,77.7L154.3,77.0L153.3,76.3L152.3,75.5L151.3,74.8L150.3,74.1L149.3,73.4L148.3,72.6L147.3,71.9L146.3,71.2L145.3,70.5L144.3,69.8L143.3,69.0L142.4,68.3L141.4,67.6L140.4,66.9L139.4,66.2L138.4,65.5L137.4,64.8L136.4,64.0L135.4,63.3L134.4,62.6L133.4,61.9L132.4,61.2L131.4,60.5L130.4,59.8L129.4,59.1L128.4,58.4L127.4,57.7L126.4,57.0L125.4,56.3L124.4,55.5L123.4,54.8L122.4,54.1L121.4,53.5L120.4,52.8L119.4,52.1L118.4,51.4L117.4,50.7L116.4,50.0L115.4,49.3L114.4,48.6L113.4,47.9L112.4,47.2L111.4,46.5L110.4,45.9L109.4,45.2L108.4,44.5L107.4,43.8L106.4,43.2L105.4,42.5L104.4,41.8L103.4,41.1L102.4,40.5L101.4,39.8L100.4,39.1L99.4,38.5L98.4,37.8L97.4,37.2L96.4,36.5L95.4,35.9L94.4,35.2L93.4,34.6L92.4,33.9L91.4,33.3L90.4,32.7L89.4,32.0L88.4,31.4L87.4,30.8L86.4,30.1L85.5,29.5L84.5,28.9L83.5,28.3L82.5,27.7L81.5,27.1L80.5,26.5L79.5,25.9L78.5,25.3L77.5,24.7Z" fill="#fbe9e9"/>
<path d="M79.1,12.5L80.1,12.9L81.2,13.4L82.2,13.9L83.2,14.4L84.2,14.9L85.3,15.4L86.3,15.9L87.3,16.5L88.3,17.0L89.3,17.6L90.3,18.2L91.3,18.8L92.4,19.4L93.4,20.0L94.4,20.6L95.4,21.2L96.4,21.9L97.4,22.5L98.4,23.2L99.4,23.8L100.4,24.5L101.4,25.1L102.4,25.8L103.4,26.5L104.4,27.1L105.4,27.8L106.4,28.5L107.4,29.2L108.4,29.8L109.4,30.5L110.4,31.2L111.4,31.9L112.4,32.6L113.4,33.3L114.4,33.9L115.4,34.6L116.4,35.3L117.4,36.0L118.4,36.7L119.4,37.4L120.4,38.1L121.4,38.7L122.4,39.4L123.4,40.1L124.4,40.8L125.4,41.5L126.4,42.2L127.4,42.9L128.4,43.6L129.4,44.2L130.5,44.9L131.5,45.6L132.5,46.3L133.5,47.0L134.5,47.7L135.5,48.4L136.5,49.1L137.5,49.8L138.5,50.5L139.5,51.2L140.5,51.9L141.5,52.6L142.5,53.3L143.5,54.0L144.5,54.7L145.5,55.4L146.5,56.1L147.5,56.8L148.5,57.5L149.5,58.2L150.5,58.9L151.5,59.6L152.5,60.3L153.5,61.0L154.5,61.7L155.5,62.4L156.5,63.1L157.5,63.8L158.5,64.5L159.5,65.2L160.5,66.0L161.5,66.7L162.5,67.4L163.5,68.1L164.5,68.8L165.5,69.5L166.5,70.3L167.5,71.0L168.5,71.7L169.5,72.4L170.5,73.1L171.5,73.9L172.5,74.6L173.5,75.3L174.5,76.1L175.5,76.8L176.5,77.5L177.5,78.3L178.5,79.0L179.5,79.7L180.5,80.5L181.5,81.2L182.5,81.9L183.5,82.7L184.5,83.4L185.5,84.2L186.5,84.9L187.5,85.7L188.5,86.4L189.5,87.2L190.5,87.9L191.5,88.7L192.5,89.4L193.5,90.2L194.5,90.9L195.5,91.7L196.5,92.4L197.5,93.2L198.5,94.0L199.5,94.7L200.5,95.5L201.5,96.2L202.5,97.0L203.5,97.8L204.5,98.5L205.5,99.3L206.5,100.1L207.5,100.8L208.5,101.6L209.5,102.4L210.5,103.1L211.5,103.9L212.5,104.7L213.5,105.4L214.5,106.2L215.5,107.0L216.5,107.8L217.5,108.5L218.5,109.3L219.5,110.1L220.5,110.9L221.5,111.6L222.5,112.4L223.5,113.2L224.5,114.0L225.5,114.8L226.5,115.6L227.5,116.3L228.5,117.1L229.5,117.9L230.5,118.7L231.5,119.5L232.5,120.3L233.6,121.1L234.6,121.9L235.6,122.7L236.6,123.6L237.6,124.4L238.6,125.2L239.6,126.0L240.6,126.8L241.6,127.7L242.6,128.5L243.6,129.3L244.6,130.2L245.6,131.0L246.6,131.9L247.6,132.7L248.6,133.6L249.6,134.5L250.6,135.3L251.6,136.2L252.6,137.1L253.6,138.0L254.6,138.9L255.6,139.8L256.6,140.7L257.6,141.6L258.6,142.5L259.6,143.4L260.6,144.3L261.6,145.3L262.6,146.2L263.6,147.1L264.6,148.1L265.6,149.0L266.6,150.0L267.7,150.9L268.7,151.9L269.7,152.9L270.7,153.8L271.7,154.8L272.7,155.8L273.7,156.8L274.7,157.8L275.7,158.8L276.7,159.8L277.7,160.8L278.7,161.8L279.7,162.9L280.7,163.9L281.7,164.9L282.7,166.0L283.7,167.0L284.7,168.0L285.7,169.1L286.7,170.2L287.7,171.2L288.7,172.3L289.7,173.4L290.7,174.4L291.7,175.5L292.7,176.6L293.7,177.7L294.7,178.8L295.7,179.9L296.7,181.0L297.7,182.1L298.7,183.2L299.7,184.3L300.7,185.4L301.7,186.5L302.7,187.6L303.7,188.7L304.7,189.8L305.7,191.0L306.7,192.1L307.7,193.2L308.7,194.4L309.7,195.5L310.7,196.6L311.7,197.8L312.7,198.9L313.7,200.0L314.7,201.2L315.7,202.3L316.7,203.5L317.7,204.6L318.7,205.8L319.7,206.9L320.7,208.1L321.7,209.2L322.7,210.4L323.7,211.5L324.7,212.7L325.7,213.8L326.7,215.0L327.7,216.1L328.7,217.3L329.7,218.4L330.7,219.5L331.7,220.7L332.7,221.8L333.7,223.0L334.7,224.1L335.7,225.3L336.7,226.4L337.7,227.5L338.7,228.7L339.7,229.8L340.7,230.9L341.7,232.1L342.7,233.2L343.7,234.3L344.7,235.4L345.7,236.6L346.7,237.7L347.7,238.8L348.7,239.9L349.7,241.0L350.7,242.1L351.7,243.2L352.7,244.3L353.7,245.4L354.7,246.5L355.7,247.5L356.7,248.6L357.7,249.7L358.7,250.7L359.7,251.8L360.7,252.9L361.7,253.9L362.7,254.9L363.7,256.0L364.7,257.0L365.7,258.0L366.7,259.1L367.7,260.1L368.7,261.1L369.7,262.1L370.7,263.1L371.7,264.0L372.7,265.0L373.7,266.0L374.7,266.9L375.7,267.9L376.6,268.8L377.6,269.8L378.6,270.7L379.6,271.6L380.6,272.5L381.6,273.4L382.6,274.3L383.6,275.2L384.6,276.1L385.6,277.0L386.6,277.8L387.6,278.7L388.6,279.5L389.6,280.3L390.6,281.1L391.6,281.9L392.5,282.7L393.5,283.5L394.5,284.3L395.5,285.1L396.5,285.8L397.5,286.6L398.5,287.3L399.5,288.0L400.5,288.8L401.5,289.5L402.5,290.2L403.5,290.8L404.4,291.5L405.4,292.2L406.4,292.9L407.4,293.5L408.4,294.1L409.4,294.8L410.4,295.4L411.4,296.0L412.4,296.6L413.3,297.2L414.3,297.8L415.3,298.4L416.3,299.0L417.3,299.5L418.3,300.1L419.3,300.6L420.3,301.2L421.3,301.7L422.3,302.2L423.3,302.7L424.2,303.2L425.2,303.7L426.2,304.2L427.2,304.7L428.2,305.2L429.2,305.7L430.2,306.1L431.2,306.6L432.2,307.1L433.2,307.5L434.1,307.9L435.1,308.4L436.1,308.8L437.1,309.2L438.1,309.6L439.1,310.0L440.1,310.4L441.1,310.8L442.0,311.1L443.0,311.5L444.0,311.9L445.0,312.2L446.0,312.5L447.0,312.9L447.9,313.2L448.9,313.5L449.9,313.8L450.9,314.1L451.9,314.3L452.8,314.6L453.8,314.8L454.8,315.1L455.8,315.3L456.8,315.5L457.7,315.7L458.7,315.9L459.7,316.1L460.7,316.3L461.7,316.4L462.6,316.6L463.6,316.7L464.6,316.8L465.6,316.9L466.6,317.0L467.5,317.1L468.5,317.2L469.5,317.3L470.5,317.3L471.5,317.4L472.4,317.4L473.4,317.4L474.4,317.4L475.4,317.4L476.4,317.4L477.4,317.4L478.3,317.3L479.3,317.3L480.3,317.2L481.3,317.2L482.3,317.1L483.3,317.0L484.2,316.9L485.2,316.8L486.2,316.7L487.2,316.6L488.2,316.5L489.2,316.4L490.2,316.2L491.2,316.1L492.1,315.9L493.1,315.8L494.1,315.6L495.1,315.5L496.1,315.3L497.1,315.1L498.1,314.9L499.1,314.7L500.1,314.6L501.1,314.4L502.0,314.2L503.0,313.9L504.0,313.7L505.0,313.5L506.0,313.3L507.0,313.1L508.0,312.8L509.0,312.6L510.0,312.4L511.0,312.1L512.0,311.9L513.0,311.6L514.0,311.4L515.0,311.1L516.0,310.9L517.0,310.6L517.9,310.4L518.9,310.1L519.9,309.8L520.9,309.6L521.9,309.3L522.9,309.0L523.9,308.7L524.9,308.5L525.9,308.2L526.9,307.9L527.9,307.6L528.9,307.3L529.9,307.1L530.9,306.8L531.9,306.5L532.9,306.2L533.9,305.9L534.9,305.6L535.9,305.3L536.9,305.0L537.9,304.7L538.9,304.4L539.9,304.1L540.9,303.8L541.9,303.6L542.9,303.3L543.9,303.0L544.9,302.7L545.9,302.4L546.9,302.1L547.9,301.8L548.9,301.5L549.9,301.2L550.9,300.9L551.9,300.6L552.9,300.3L553.9,300.0L554.9,299.7L555.9,299.4L556.9,299.1L557.9,298.8L558.9,298.5L559.9,298.2L560.9,297.9L561.9,297.6L562.9,297.3L563.9,297.0L564.9,296.7L565.9,296.4L566.9,296.1L567.9,295.8L568.9,295.5L569.9,295.2L570.9,294.9L571.9,294.5L572.9,294.2L573.9,293.9L574.9,293.7L575.9,293.4L576.9,293.1L577.9,292.8L578.9,292.5L579.9,292.2L580.9,291.9L581.9,291.6L582.9,291.3L583.9,291.0L584.9,290.7L585.9,290.4L586.9,290.1L587.9,289.8L588.9,289.5L589.9,289.2L590.9,288.9L591.9,288.6L592.9,288.4L593.9,288.1L594.9,287.8L595.9,287.5L596.9,287.2L597.9,287.0L598.9,286.7L599.9,286.4L600.9,286.1L601.9,285.9L602.9,285.6L603.9,285.3L605.0,285.1L606.0,284.8L607.0,284.6L608.0,284.3L609.0,284.0L610.0,283.8L611.0,283.6L612.0,283.3L613.0,283.1L614.0,282.8L615.0,282.6L616.0,282.4L617.0,282.1L618.0,281.9L619.0,281.7L620.0,281.5L621.0,281.3L622.0,281.1L623.0,280.8L624.1,280.6L625.1,280.4L626.1,280.2L627.1,280.1L628.1,279.9L629.1,279.7L630.1,279.5L631.1,279.3L632.1,279.1L633.1,279.0L634.1,278.8L635.1,278.6L636.1,278.5L637.1,278.3L638.1,278.1L639.1,278.0L640.1,277.8L641.1,277.7L642.2,277.5L643.2,277.4L644.2,277.2L645.2,277.1L646.2,277.0L647.2,276.8L648.2,276.7L649.2,276.6L650.2,276.4L651.2,276.3L652.2,276.2L653.2,276.1L654.2,275.9L655.2,275.8L656.2,275.7L657.2,275.6L658.2,275.5L659.2,275.4L660.2,275.3L661.2,275.1L662.2,275.0L663.2,274.9L664.2,274.8L665.2,274.7L666.2,274.6L667.2,274.5L668.2,274.4L669.2,274.3L670.2,274.1L671.2,274.0L672.2,273.9L673.2,273.8L674.2,273.7L675.2,273.6L675.6,277.0L674.6,277.1L673.6,277.2L672.6,277.3L671.6,277.4L670.6,277.5L669.6,277.6L668.6,277.8L667.6,277.9L666.6,278.0L665.6,278.1L664.6,278.2L663.6,278.3L662.6,278.4L661.6,278.5L660.6,278.6L659.6,278.8L658.6,278.9L657.6,279.0L656.6,279.1L655.6,279.2L654.6,279.3L653.6,279.5L652.6,279.6L651.6,279.7L650.6,279.8L649.6,280.0L648.6,280.1L647.6,280.2L646.6,280.4L645.6,280.5L644.6,280.6L643.6,280.8L642.6,280.9L641.7,281.1L640.7,281.2L639.7,281.4L638.7,281.5L637.7,281.7L636.7,281.9L635.7,282.0L634.7,282.2L633.7,282.4L632.7,282.6L631.7,282.7L630.7,282.9L629.7,283.1L628.7,283.3L627.7,283.5L626.7,283.7L625.7,283.9L624.7,284.1L623.8,284.3L622.8,284.5L621.8,284.7L620.8,284.9L619.8,285.1L618.8,285.4L617.8,285.6L616.8,285.8L615.8,286.0L614.8,286.3L613.8,286.5L612.8,286.8L611.8,287.0L610.8,287.2L609.8,287.5L608.8,287.7L607.8,288.0L606.8,288.3L605.8,288.5L604.9,288.8L603.9,289.0L602.9,289.3L601.9,289.6L600.9,289.8L599.9,290.1L598.9,290.4L597.9,290.7L596.9,291.0L595.9,291.2L594.9,291.5L593.9,291.8L592.9,292.1L591.9,292.4L590.9,292.7L589.9,293.0L588.9,293.2L587.9,293.5L586.9,293.8L585.9,294.1L584.9,294.4L583.9,294.7L582.9,295.0L581.9,295.3L580.9,295.6L579.9,295.9L578.9,296.2L577.9,296.5L576.9,296.8L575.9,297.1L574.9,297.4L573.9,297.7L572.9,298.0L571.9,298.3L570.9,298.6L569.9,298.9L568.9,299.2L567.9,299.5L566.9,299.8L565.9,300.1L564.9,300.4L563.9,300.7L562.9,301.0L561.9,301.3L560.9,301.6L559.9,301.9L558.9,302.2L557.9,302.5L556.9,302.8L555.9,303.1L554.9,303.4L553.9,303.7L552.9,304.0L551.9,304.3L550.9,304.6L549.9,304.9L548.9,305.2L547.9,305.5L546.9,305.8L545.9,306.1L544.9,306.4L543.9,306.7L542.9,307.0L541.9,307.3L540.9,307.6L539.9,307.9L538.9,308.2L537.9,308.5L536.9,308.8L535.9,309.1L534.9,309.4L533.9,309.6L532.9,309.9L531.9,310.2L530.9,310.5L529.9,310.8L528.9,311.1L527.9,311.4L526.9,311.6L525.9,311.9L524.9,312.2L523.9,312.5L522.9,312.7L521.9,313.0L520.9,313.3L519.9,313.5L518.9,313.8L517.8,314.1L516.8,314.3L515.8,314.6L514.8,314.8L513.8,315.1L512.8,315.3L511.8,315.6L510.8,315.8L509.8,316.0L508.8,316.3L507.8,316.5L506.8,316.7L505.8,317.0L504.8,317.2L503.8,317.4L502.8,317.6L501.7,317.8L500.7,318.0L499.7,318.2L498.7,318.4L497.7,318.5L496.7,318.7L495.7,318.9L494.7,319.1L493.7,319.2L492.7,319.4L491.6,319.5L490.6,319.6L489.6,319.8L488.6,319.9L487.6,320.0L486.6,320.1L485.6,320.2L484.6,320.3L483.5,320.4L482.5,320.5L481.5,320.5L480.5,320.6L479.5,320.6L478.5,320.7L477.4,320.7L476.4,320.7L475.4,320.7L474.4,320.7L473.4,320.7L472.4,320.7L471.3,320.7L470.3,320.7L469.3,320.6L468.3,320.6L467.3,320.5L466.2,320.4L465.2,320.3L464.2,320.2L463.2,320.1L462.2,320.0L461.1,319.8L460.1,319.7L459.1,319.5L458.1,319.3L457.1,319.2L456.0,319.0L455.0,318.7L454.0,318.5L453.0,318.3L452.0,318.0L450.9,317.8L449.9,317.5L448.9,317.2L447.9,316.9L446.9,316.6L445.8,316.3L444.8,316.0L443.8,315.6L442.8,315.3L441.8,314.9L440.8,314.6L439.7,314.2L438.7,313.8L437.7,313.4L436.7,313.0L435.7,312.6L434.7,312.2L433.7,311.8L432.7,311.3L431.6,310.9L430.6,310.4L429.6,310.0L428.6,309.5L427.6,309.0L426.6,308.5L425.6,308.1L424.6,307.6L423.6,307.1L422.6,306.5L421.5,306.0L420.5,305.5L419.5,305.0L418.5,304.4L417.5,303.9L416.5,303.3L415.5,302.7L414.5,302.2L413.5,301.6L412.5,301.0L411.5,300.4L410.4,299.8L409.4,299.2L408.4,298.5L407.4,297.9L406.4,297.3L405.4,296.6L404.4,295.9L403.4,295.3L402.4,294.6L401.3,293.9L400.3,293.2L399.3,292.5L398.3,291.8L397.3,291.0L396.3,290.3L395.3,289.5L394.3,288.8L393.3,288.0L392.3,287.2L391.3,286.4L390.3,285.6L389.2,284.8L388.2,284.0L387.2,283.1L386.2,282.3L385.2,281.4L384.2,280.6L383.2,279.7L382.2,278.8L381.2,277.9L380.2,277.0L379.2,276.1L378.2,275.2L377.2,274.3L376.2,273.4L375.2,272.4L374.2,271.5L373.1,270.5L372.1,269.6L371.1,268.6L370.1,267.6L369.1,266.6L368.1,265.6L367.1,264.6L366.1,263.6L365.1,262.6L364.1,261.6L363.1,260.5L362.1,259.5L361.1,258.5L360.1,257.4L359.1,256.4L358.1,255.3L357.1,254.3L356.1,253.2L355.1,252.1L354.1,251.0L353.1,250.0L352.1,248.9L351.1,247.8L350.1,246.7L349.1,245.6L348.1,244.5L347.1,243.4L346.1,242.3L345.1,241.2L344.1,240.0L343.1,238.9L342.1,237.8L341.1,236.7L340.1,235.6L339.1,234.4L338.1,233.3L337.1,232.2L336.1,231.0L335.1,229.9L334.1,228.7L333.1,227.6L332.1,226.5L331.1,225.3L330.1,224.2L329.1,223.0L328.1,221.9L327.1,220.7L326.1,219.6L325.1,218.4L324.1,217.3L323.1,216.1L322.1,215.0L321.1,213.8L320.1,212.7L319.1,211.5L318.1,210.4L317.1,209.2L316.1,208.1L315.1,207.0L314.1,205.8L313.1,204.7L312.1,203.5L311.1,202.4L310.1,201.3L309.1,200.1L308.1,199.0L307.1,197.8L306.1,196.7L305.1,195.6L304.1,194.5L303.1,193.3L302.1,192.2L301.1,191.1L300.1,190.0L299.1,188.9L298.1,187.8L297.1,186.7L296.1,185.6L295.1,184.5L294.1,183.4L293.1,182.3L292.1,181.2L291.1,180.1L290.1,179.0L289.1,177.9L288.1,176.9L287.1,175.8L286.1,174.7L285.1,173.7L284.1,172.6L283.1,171.6L282.1,170.5L281.1,169.5L280.1,168.5L279.1,167.4L278.1,166.4L277.1,165.4L276.1,164.4L275.1,163.4L274.1,162.4L273.1,161.4L272.1,160.4L271.1,159.4L270.1,158.4L269.1,157.4L268.1,156.4L267.1,155.5L266.1,154.5L265.1,153.6L264.2,152.6L263.2,151.7L262.2,150.7L261.2,149.8L260.2,148.9L259.2,147.9L258.2,147.0L257.2,146.1L256.2,145.2L255.2,144.3L254.2,143.4L253.2,142.5L252.2,141.6L251.2,140.7L250.2,139.8L249.2,139.0L248.2,138.1L247.2,137.2L246.2,136.4L245.2,135.5L244.2,134.7L243.2,133.8L242.2,133.0L241.2,132.2L240.2,131.3L239.2,130.5L238.2,129.7L237.2,128.8L236.2,128.0L235.2,127.2L234.2,126.4L233.2,125.6L232.2,124.8L231.2,124.0L230.3,123.2L229.3,122.4L228.3,121.6L227.3,120.8L226.3,120.0L225.3,119.2L224.3,118.4L223.3,117.7L222.3,116.9L221.3,116.1L220.3,115.3L219.3,114.5L218.3,113.8L217.3,113.0L216.3,112.2L215.3,111.4L214.3,110.7L213.3,109.9L212.3,109.1L211.3,108.4L210.3,107.6L209.3,106.8L208.3,106.1L207.3,105.3L206.3,104.5L205.3,103.8L204.3,103.0L203.3,102.2L202.3,101.5L201.3,100.7L200.3,99.9L199.3,99.2L198.3,98.4L197.3,97.7L196.3,96.9L195.3,96.1L194.3,95.4L193.3,94.6L192.3,93.9L191.3,93.1L190.3,92.4L189.3,91.6L188.3,90.9L187.3,90.1L186.3,89.4L185.3,88.6L184.3,87.9L183.3,87.1L182.3,86.4L181.3,85.7L180.3,84.9L179.3,84.2L178.3,83.4L177.3,82.7L176.3,82.0L175.3,81.2L174.3,80.5L173.3,79.8L172.3,79.0L171.3,78.3L170.3,77.6L169.3,76.9L168.3,76.1L167.3,75.4L166.3,74.7L165.3,74.0L164.3,73.3L163.3,72.5L162.3,71.8L161.3,71.1L160.3,70.4L159.3,69.7L158.3,69.0L157.3,68.3L156.3,67.5L155.3,66.8L154.3,66.1L153.3,65.4L152.3,64.7L151.3,64.0L150.3,63.3L149.3,62.6L148.3,61.9L147.3,61.2L146.3,60.5L145.3,59.8L144.3,59.1L143.3,58.4L142.3,57.7L141.3,57.0L140.3,56.3L139.3,55.6L138.3,54.9L137.3,54.2L136.3,53.5L135.3,52.8L134.3,52.1L133.3,51.4L132.3,50.7L131.3,50.1L130.3,49.4L129.3,48.7L128.3,48.0L127.4,47.3L126.4,46.6L125.4,45.9L124.4,45.2L123.4,44.5L122.4,43.9L121.4,43.2L120.4,42.5L119.4,41.8L118.4,41.1L117.4,40.4L116.4,39.7L115.4,39.0L114.4,38.4L113.4,37.7L112.4,37.0L111.4,36.3L110.4,35.6L109.4,34.9L108.4,34.3L107.4,33.6L106.4,32.9L105.4,32.2L104.4,31.5L103.4,30.9L102.4,30.2L101.4,29.5L100.4,28.9L99.4,28.2L98.4,27.6L97.4,26.9L96.4,26.3L95.4,25.6L94.4,25.0L93.4,24.4L92.4,23.8L91.4,23.1L90.4,22.5L89.5,22.0L88.5,21.4L87.5,20.8L86.5,20.3L85.5,19.7L84.5,19.2L83.5,18.7L82.6,18.2L81.6,17.7L80.6,17.2L79.6,16.8L78.7,16.3L77.7,15.9Z" fill="#0000ff"/>
<path d="M79.3,21.6L80.3,22.2L78.5,25.3L77.5,24.7ZM81.2,22.7L82.2,23.3L80.4,26.4L79.3,25.8ZM83.1,23.8L84.2,24.5L82.3,27.6L81.2,26.9ZM85.0,25.0L86.1,25.7L84.2,28.7L83.1,28.1ZM86.9,26.2L88.0,26.9L86.1,29.9L85.0,29.2ZM88.8,27.4L89.9,28.0L88.0,31.1L86.9,30.4ZM90.7,28.6L91.8,29.3L89.9,32.3L88.8,31.6ZM92.6,29.8L93.7,30.5L91.8,33.5L90.7,32.8ZM94.5,31.0L95.6,31.7L93.7,34.7L92.5,34.0ZM96.4,32.2L97.5,32.9L95.5,36.0L94.4,35.2ZM98.3,33.5L99.4,34.2L97.4,37.2L96.3,36.5ZM100.2,34.7L101.3,35.4L99.3,38.4L98.2,37.7ZM102.1,36.0L103.2,36.7L101.2,39.7L100.1,39.0ZM104.0,37.2L105.1,38.0L103.1,41.0L102.0,40.2ZM105.9,38.5L107.0,39.2L105.0,42.2L103.9,41.5ZM107.8,39.8L108.9,40.5L106.9,43.5L105.8,42.8ZM109.7,41.1L110.8,41.8L108.8,44.8L107.7,44.0ZM111.6,42.4L112.7,43.1L110.7,46.1L109.6,45.3ZM113.5,43.7L114.6,44.4L112.6,47.4L111.5,46.6ZM115.4,45.0L116.6,45.7L114.5,48.7L113.4,47.9ZM117.3,46.3L118.5,47.0L116.4,50.0L115.3,49.2ZM119.2,47.6L120.4,48.4L118.3,51.3L117.2,50.5ZM121.1,48.9L122.3,49.7L120.2,52.6L119.1,51.9ZM123.0,50.2L124.2,51.0L122.1,54.0L121.0,53.2ZM125.0,51.6L126.1,52.3L124.0,55.3L122.9,54.5ZM126.9,52.9L128.0,53.7L125.9,56.6L124.8,55.8ZM128.8,54.2L129.9,55.0L127.8,58.0L126.7,57.2ZM130.7,55.6L131.8,56.4L129.7,59.3L128.6,58.5ZM132.6,56.9L133.7,57.7L131.6,60.7L130.5,59.9ZM134.5,58.3L135.6,59.1L133.5,62.0L132.4,61.2ZM136.4,59.6L137.5,60.4L135.4,63.3L134.3,62.6ZM138.3,61.0L139.4,61.8L137.3,64.7L136.2,63.9ZM140.2,62.3L141.3,63.1L139.2,66.1L138.1,65.3ZM142.1,63.7L143.2,64.5L141.1,67.4L140.0,66.6ZM144.0,65.1L145.1,65.9L143.0,68.8L141.9,68.0ZM145.9,66.4L147.0,67.2L144.9,70.1L143.8,69.3ZM147.8,67.8L148.9,68.6L146.8,71.5L145.7,70.7ZM149.7,69.2L150.8,70.0L148.7,72.9L147.6,72.1ZM151.6,70.5L152.7,71.3L150.6,74.3L149.5,73.4ZM153.5,71.9L154.6,72.7L152.5,75.6L151.4,74.8ZM155.4,73.3L156.5,74.1L154.4,77.0L153.3,76.2ZM157.3,74.7L158.4,75.5L156.3,78.4L155.2,77.6ZM159.2,76.0L160.3,76.9L158.2,79.8L157.1,79.0ZM161.1,77.4L162.2,78.2L160.1,81.2L159.0,80.3ZM163.0,78.8L164.1,79.6L162.0,82.5L160.9,81.7ZM164.9,80.2L166.0,81.0L163.9,83.9L162.8,83.1ZM166.8,81.6L167.9,82.4L165.8,85.3L164.6,84.5ZM168.7,83.0L169.8,83.8L167.7,86.7L166.5,85.9ZM170.6,84.4L171.7,85.2L169.6,88.1L168.4,87.3ZM172.5,85.8L173.6,86.6L171.5,89.5L170.3,88.7ZM174.4,87.2L175.5,88.0L173.4,90.9L172.2,90.1ZM176.3,88.6L177.4,89.4L175.3,92.3L174.1,91.5ZM178.2,90.0L179.3,90.8L177.2,93.7L176.0,92.9ZM180.1,91.4L181.2,92.3L179.1,95.1L177.9,94.3ZM182.0,92.8L183.1,93.7L181.0,96.6L179.8,95.7ZM183.9,94.3L185.0,95.1L182.9,98.0L181.7,97.1ZM185.8,95.7L186.9,96.5L184.8,99.4L183.6,98.6ZM187.7,97.1L188.8,98.0L186.7,100.8L185.5,100.0ZM189.6,98.5L190.7,99.4L188.6,102.3L187.4,101.4ZM191.5,100.0L192.6,100.8L190.5,103.7L189.3,102.9ZM193.4,101.4L194.5,102.3L192.3,105.2L191.2,104.3ZM195.3,102.9L196.4,103.7L194.2,106.6L193.1,105.7ZM197.2,104.3L198.3,105.2L196.1,108.1L195.0,107.2ZM199.1,105.8L200.2,106.7L198.0,109.5L196.9,108.7ZM201.0,107.3L202.1,108.1L199.9,111.0L198.8,110.1ZM202.9,108.7L204.1,109.6L201.8,112.5L200.7,111.6ZM204.8,110.2L206.0,111.1L203.7,114.0L202.6,113.1ZM206.7,111.7L207.9,112.6L205.6,115.4L204.5,114.6ZM208.6,113.2L209.8,114.1L207.5,116.9L206.4,116.0ZM210.5,114.7L211.7,115.6L209.4,118.5L208.3,117.6ZM212.4,116.2L213.6,117.1L211.3,120.0L210.2,119.1ZM214.3,117.8L215.5,118.7L213.2,121.5L212.1,120.6ZM216.2,119.3L217.4,120.2L215.1,123.0L214.0,122.1ZM218.2,120.8L219.3,121.8L217.0,124.6L215.9,123.6ZM220.1,122.4L221.2,123.3L218.9,126.1L217.7,125.2ZM222.0,124.0L223.1,124.9L220.8,127.7L219.6,126.8ZM223.9,125.5L225.0,126.5L222.7,129.3L221.5,128.3ZM225.8,127.1L226.9,128.1L224.6,130.9L223.4,129.9ZM227.7,128.7L228.8,129.7L226.5,132.5L225.3,131.5ZM229.6,130.3L230.7,131.3L228.4,134.1L227.2,133.1ZM231.5,131.9L232.6,132.9L230.3,135.7L229.1,134.7ZM233.4,133.6L234.5,134.6L232.2,137.3L231.0,136.3ZM235.3,135.2L236.5,136.2L234.1,139.0L232.9,138.0ZM237.2,136.9L238.4,137.9L235.9,140.6L234.8,139.6ZM239.1,138.5L240.3,139.6L237.8,142.3L236.7,141.3ZM241.0,140.2L242.2,141.3L239.7,144.0L238.6,143.0ZM242.9,141.9L244.1,143.0L241.6,145.7L240.5,144.6ZM244.8,143.6L246.0,144.7L243.5,147.4L242.4,146.4ZM246.7,145.3L247.9,146.4L245.4,149.1L244.3,148.1ZM248.6,147.1L249.8,148.1L247.3,150.9L246.1,149.8ZM250.5,148.8L251.7,149.9L249.2,152.6L248.0,151.5ZM252.4,150.6L253.6,151.7L251.1,154.4L249.9,153.3ZM254.4,152.4L255.5,153.5L253.0,156.2L251.8,155.1ZM256.3,154.1L257.4,155.3L254.9,157.9L253.7,156.8ZM258.2,156.0L259.3,157.1L256.8,159.8L255.6,158.6ZM260.1,157.8L261.2,158.9L258.7,161.6L257.5,160.4ZM262.0,159.6L263.2,160.7L260.6,163.4L259.4,162.3ZM263.9,161.4L265.1,162.6L262.5,165.3L261.3,164.1ZM265.8,163.3L267.0,164.5L264.4,167.1L263.2,166.0ZM267.7,165.2L268.9,166.4L266.3,169.0L265.1,167.8ZM269.6,167.1L270.8,168.3L268.2,170.9L267.0,169.7ZM271.5,169.0L272.7,170.2L270.0,172.8L268.9,171.6ZM273.4,170.9L274.6,172.1L271.9,174.7L270.7,173.5ZM275.3,172.8L276.4,174.0L273.8,176.6L272.6,175.4ZM277.1,174.7L278.3,175.9L275.6,178.5L274.4,177.3ZM279.0,176.6L280.1,177.8L277.4,180.4L276.3,179.2ZM280.8,178.5L281.9,179.7L279.2,182.3L278.1,181.1ZM282.6,180.4L283.8,181.6L281.0,184.2L279.9,183.0ZM284.4,182.3L285.6,183.5L282.8,186.1L281.7,184.9ZM286.2,184.2L287.3,185.4L284.6,188.0L283.5,186.8ZM288.0,186.1L289.1,187.3L286.4,189.9L285.3,188.7ZM289.8,188.0L290.9,189.2L288.1,191.8L287.0,190.6ZM291.6,189.9L292.6,191.1L289.9,193.7L288.8,192.5ZM293.3,191.8L294.4,193.0L291.6,195.5L290.5,194.4ZM295.0,193.7L296.1,194.9L293.3,197.4L292.2,196.3ZM296.8,195.6L297.8,196.8L295.0,199.3L294.0,198.2ZM298.5,197.5L299.6,198.7L296.7,201.2L295.7,200.1ZM300.2,199.4L301.3,200.6L298.4,203.1L297.4,201.9ZM301.9,201.3L302.9,202.5L300.1,205.0L299.1,203.8ZM303.6,203.2L304.6,204.4L301.8,206.9L300.7,205.7ZM305.3,205.1L306.3,206.3L303.5,208.8L302.4,207.6ZM306.9,207.0L308.0,208.2L305.1,210.7L304.1,209.5ZM308.6,208.9L309.6,210.1L306.8,212.6L305.8,211.4ZM310.3,210.8L311.3,212.0L308.4,214.5L307.4,213.3ZM311.9,212.7L313.0,213.9L310.1,216.4L309.1,215.2ZM313.6,214.6L314.6,215.8L311.7,218.3L310.7,217.1ZM315.2,216.5L316.3,217.7L313.4,220.2L312.4,219.0ZM316.9,218.4L317.9,219.6L315.0,222.1L314.0,220.9ZM318.5,220.3L319.5,221.5L316.7,224.0L315.6,222.8ZM320.1,222.3L321.2,223.4L318.3,225.9L317.3,224.7ZM321.8,224.2L322.8,225.3L319.9,227.8L318.9,226.6ZM323.4,226.1L324.4,227.2L321.5,229.7L320.5,228.5ZM325.0,228.0L326.1,229.1L323.2,231.6L322.2,230.4ZM326.7,229.9L327.7,231.0L324.8,233.5L323.8,232.3ZM328.3,231.8L329.3,232.9L326.4,235.4L325.4,234.2ZM329.9,233.7L331.0,234.8L328.1,237.3L327.1,236.1ZM331.6,235.5L332.6,236.7L329.7,239.2L328.7,238.0ZM333.2,237.4L334.2,238.6L331.3,241.1L330.3,239.9ZM334.8,239.3L335.9,240.5L333.0,243.0L332.0,241.8ZM336.5,241.2L337.5,242.4L334.6,244.9L333.6,243.7ZM338.1,243.1L339.2,244.3L336.3,246.8L335.3,245.6ZM339.8,245.0L340.8,246.2L337.9,248.7L336.9,247.5ZM341.4,246.9L342.5,248.1L339.6,250.6L338.6,249.4ZM343.1,248.8L344.1,250.0L341.3,252.5L340.2,251.3ZM344.7,250.7L345.8,251.9L343.0,254.4L341.9,253.2ZM346.4,252.6L347.5,253.8L344.6,256.3L343.6,255.1ZM348.1,254.5L349.2,255.7L346.3,258.2L345.3,257.0ZM349.8,256.4L350.9,257.6L348.0,260.1L347.0,259.0ZM351.5,258.3L352.6,259.5L349.8,262.0L348.7,260.9ZM353.2,260.2L354.3,261.4L351.5,263.9L350.4,262.8ZM354.9,262.1L356.0,263.3L353.2,265.8L352.1,264.7ZM356.6,264.0L357.7,265.2L355.0,267.8L353.9,266.6ZM358.4,265.9L359.5,267.1L356.7,269.7L355.6,268.5ZM360.2,267.8L361.3,269.0L358.5,271.6L357.4,270.4ZM361.9,269.7L363.0,270.9L360.3,273.5L359.2,272.3ZM363.7,271.6L364.8,272.8L362.1,275.4L361.0,274.2ZM365.5,273.5L366.7,274.7L364.0,277.3L362.8,276.1ZM367.3,275.4L368.5,276.6L365.8,279.2L364.7,278.0ZM369.2,277.3L370.3,278.5L367.7,281.1L366.5,279.9ZM371.0,279.2L372.2,280.4L369.6,283.0L368.4,281.8ZM372.9,281.1L374.1,282.2L371.5,284.9L370.3,283.7ZM374.8,282.9L376.0,284.1L373.4,286.8L372.2,285.6ZM376.7,284.8L377.9,285.9L375.3,288.6L374.1,287.5ZM378.6,286.6L379.8,287.7L377.2,290.4L376.0,289.3ZM380.5,288.4L381.7,289.5L379.1,292.2L378.0,291.1ZM382.4,290.2L383.5,291.3L381.0,294.0L379.9,292.9ZM384.3,291.9L385.4,293.0L383.0,295.7L381.8,294.7ZM386.1,293.7L387.3,294.7L384.9,297.4L383.7,296.4ZM388.0,295.3L389.2,296.4L386.8,299.1L385.6,298.1ZM389.9,297.0L391.1,298.0L388.7,300.8L387.5,299.8ZM391.8,298.6L393.0,299.6L390.6,302.4L389.5,301.4ZM393.7,300.2L394.8,301.2L392.5,304.0L391.4,303.0ZM395.6,301.8L396.7,302.7L394.4,305.5L393.3,304.6ZM397.5,303.3L398.6,304.2L396.3,307.1L395.2,306.2ZM399.4,304.8L400.5,305.7L398.3,308.6L397.1,307.7ZM401.2,306.3L402.4,307.2L400.2,310.0L399.0,309.2ZM403.1,307.7L404.2,308.6L402.1,311.5L401.0,310.6ZM405.0,309.1L406.1,309.9L404.0,312.9L402.9,312.0ZM406.9,310.5L408.0,311.3L405.9,314.2L404.8,313.4ZM408.8,311.8L409.9,312.6L407.8,315.6L406.7,314.8ZM410.7,313.1L411.8,313.9L409.8,316.8L408.6,316.1ZM412.5,314.4L413.6,315.1L411.7,318.1L410.6,317.4ZM414.4,315.6L415.5,316.3L413.6,319.3L412.5,318.6ZM416.3,316.8L417.4,317.5L415.5,320.5L414.4,319.8ZM418.2,317.9L419.3,318.6L417.4,321.7L416.3,321.0ZM420.1,319.0L421.2,319.7L419.4,322.8L418.3,322.2ZM421.9,320.1L423.0,320.7L421.3,323.9L420.2,323.3ZM423.8,321.2L424.9,321.7L423.2,324.9L422.1,324.3ZM425.7,322.2L426.8,322.7L425.1,325.9L424.0,325.3ZM427.6,323.1L428.6,323.6L427.0,326.9L426.0,326.3ZM429.4,324.0L430.5,324.5L429.0,327.8L427.9,327.3ZM431.3,324.9L432.4,325.4L430.9,328.7L429.8,328.2ZM433.2,325.8L434.3,326.2L432.8,329.5L431.8,329.1ZM435.1,326.6L436.1,327.0L434.7,330.3L433.7,329.9ZM436.9,327.3L438.0,327.7L436.7,331.1L435.6,330.7ZM438.8,328.1L439.9,328.4L438.6,331.8L437.6,331.4ZM440.7,328.7L441.7,329.1L440.5,332.5L439.5,332.1ZM442.6,329.4L443.6,329.7L442.5,333.1L441.4,332.8ZM444.4,330.0L445.4,330.3L444.4,333.7L443.4,333.4ZM446.3,330.5L447.3,330.8L446.3,334.3L445.3,334.0ZM448.2,331.1L449.2,331.3L448.3,334.8L447.2,334.6ZM450.0,331.6L451.0,331.8L450.2,335.3L449.2,335.1ZM451.9,332.0L452.9,332.2L452.1,335.7L451.1,335.5ZM453.8,332.4L454.8,332.6L454.1,336.1L453.1,335.9ZM455.6,332.8L456.6,333.0L456.0,336.5L455.0,336.3ZM457.5,333.1L458.5,333.3L457.9,336.8L456.9,336.7ZM459.4,333.4L460.3,333.5L459.9,337.1L458.9,337.0ZM461.2,333.6L462.2,333.8L461.8,337.3L460.8,337.2ZM463.1,333.8L464.1,333.9L463.7,337.5L462.7,337.4ZM465.0,334.0L465.9,334.1L465.7,337.7L464.7,337.6ZM466.8,334.2L467.8,334.2L467.6,337.8L466.6,337.8ZM468.7,334.3L469.7,334.3L469.5,337.9L468.6,337.9ZM470.6,334.3L471.5,334.4L471.4,338.0L470.5,337.9ZM472.4,334.4L473.4,334.4L473.4,338.0L472.4,338.0ZM474.3,334.4L475.3,334.4L475.3,338.0L474.4,338.0ZM476.2,334.3L477.1,334.3L477.2,337.9L476.3,337.9ZM478.0,334.3L479.0,334.2L479.2,337.8L478.2,337.9ZM479.9,334.2L480.9,334.1L481.1,337.7L480.1,337.8ZM481.8,334.1L482.8,334.0L483.0,337.6L482.1,337.7ZM483.7,333.9L484.6,333.8L485.0,337.4L484.0,337.5ZM485.5,333.8L486.5,333.7L486.9,337.2L485.9,337.3ZM487.4,333.6L488.4,333.4L488.8,337.0L487.8,337.1ZM489.3,333.3L490.3,333.2L490.7,336.8L489.7,336.9ZM491.2,333.1L492.1,332.9L492.7,336.5L491.7,336.6ZM493.0,332.8L494.0,332.7L494.6,336.2L493.6,336.4ZM494.9,332.5L495.9,332.3L496.5,335.9L495.5,336.1ZM496.8,332.2L497.8,332.0L498.4,335.6L497.4,335.7ZM498.7,331.9L499.7,331.7L500.3,335.2L499.3,335.4ZM500.6,331.5L501.6,331.3L502.3,334.8L501.3,335.0ZM502.4,331.1L503.4,330.9L504.2,334.4L503.2,334.7ZM504.3,330.7L505.3,330.5L506.1,334.0L505.1,334.3ZM506.2,330.3L507.2,330.1L508.0,333.6L507.0,333.8ZM508.1,329.9L509.1,329.7L509.9,333.2L508.9,333.4ZM510.0,329.5L511.0,329.2L511.8,332.7L510.8,333.0ZM511.9,329.0L512.9,328.8L513.7,332.2L512.7,332.5ZM513.8,328.5L514.8,328.3L515.7,331.8L514.6,332.0ZM515.6,328.0L516.7,327.8L517.6,331.3L516.6,331.5ZM517.5,327.6L518.5,327.3L519.5,330.8L518.5,331.0ZM519.4,327.0L520.4,326.8L521.4,330.2L520.4,330.5ZM521.3,326.5L522.3,326.2L523.3,329.7L522.3,330.0ZM523.2,326.0L524.2,325.7L525.2,329.2L524.2,329.5ZM525.1,325.5L526.1,325.2L527.1,328.6L526.1,328.9ZM527.0,324.9L528.0,324.6L529.0,328.1L528.0,328.4ZM528.9,324.4L529.9,324.1L530.9,327.5L529.9,327.8ZM530.8,323.8L531.8,323.5L532.8,326.9L531.8,327.2ZM532.7,323.2L533.7,322.9L534.7,326.4L533.7,326.7ZM534.6,322.7L535.6,322.3L536.6,325.8L535.6,326.1ZM536.5,322.1L537.5,321.8L538.5,325.2L537.5,325.5ZM538.4,321.5L539.4,321.2L540.5,324.6L539.4,324.9ZM540.3,320.9L541.3,320.6L542.4,324.0L541.3,324.3ZM542.2,320.3L543.2,320.0L544.3,323.4L543.2,323.7ZM544.1,319.7L545.1,319.4L546.2,322.8L545.1,323.1ZM546.0,319.1L547.0,318.8L548.1,322.2L547.0,322.5ZM547.9,318.5L548.9,318.2L550.0,321.6L548.9,321.9ZM549.7,317.9L550.8,317.6L551.9,321.0L550.8,321.3ZM551.6,317.3L552.7,317.0L553.8,320.4L552.7,320.7ZM553.5,316.7L554.6,316.4L555.7,319.8L554.6,320.1ZM555.4,316.1L556.5,315.8L557.6,319.2L556.5,319.5ZM557.4,315.5L558.4,315.2L559.5,318.6L558.4,318.9ZM559.3,314.9L560.3,314.6L561.4,318.0L560.3,318.3ZM561.2,314.3L562.2,314.0L563.3,317.4L562.2,317.7ZM563.1,313.7L564.1,313.4L565.2,316.8L564.1,317.1ZM565.0,313.1L566.0,312.8L567.1,316.2L566.0,316.5ZM566.9,312.5L567.9,312.2L569.0,315.6L567.9,315.9ZM568.8,311.9L569.8,311.6L570.9,315.0L569.8,315.3ZM570.7,311.3L571.7,311.0L572.7,314.4L571.7,314.8ZM572.6,310.7L573.6,310.4L574.6,313.9L573.6,314.2ZM574.5,310.1L575.5,309.8L576.5,313.3L575.5,313.6ZM576.4,309.6L577.4,309.3L578.4,312.7L577.4,313.0ZM578.3,309.0L579.3,308.7L580.3,312.1L579.3,312.5ZM580.2,308.4L581.2,308.1L582.2,311.6L581.2,311.9ZM582.1,307.9L583.1,307.6L584.1,311.0L583.1,311.3ZM584.0,307.3L585.0,307.0L586.0,310.5L585.0,310.8ZM585.9,306.8L586.9,306.5L587.9,309.9L586.9,310.2ZM587.8,306.2L588.8,305.9L589.8,309.4L588.8,309.7ZM589.7,305.7L590.7,305.4L591.7,308.9L590.7,309.2ZM591.6,305.2L592.6,304.9L593.6,308.4L592.6,308.6ZM593.5,304.7L594.5,304.4L595.5,307.9L594.5,308.1ZM595.4,304.1L596.5,303.9L597.4,307.3L596.4,307.6ZM597.3,303.6L598.4,303.4L599.3,306.8L598.3,307.1ZM599.3,303.1L600.3,302.9L601.2,306.4L600.2,306.6ZM601.2,302.6L602.2,302.4L603.1,305.9L602.0,306.1ZM603.1,302.2L604.1,301.9L604.9,305.4L603.9,305.7ZM605.0,301.7L606.0,301.4L606.8,304.9L605.8,305.2ZM606.9,301.2L607.9,301.0L608.7,304.5L607.7,304.7ZM608.8,300.8L609.8,300.5L610.6,304.0L609.6,304.3ZM610.7,300.3L611.7,300.1L612.5,303.6L611.5,303.8ZM612.6,299.9L613.6,299.6L614.4,303.2L613.4,303.4ZM614.5,299.4L615.5,299.2L616.3,302.7L615.3,303.0ZM616.4,299.0L617.4,298.8L618.2,302.3L617.2,302.5ZM618.3,298.6L619.3,298.4L620.1,301.9L619.1,302.1ZM620.2,298.2L621.2,298.0L622.0,301.5L621.0,301.7ZM622.1,297.8L623.1,297.6L623.9,301.1L622.9,301.3ZM624.1,297.4L625.1,297.2L625.8,300.7L624.8,300.9ZM626.0,297.0L627.0,296.8L627.7,300.4L626.7,300.6ZM627.9,296.7L628.9,296.5L629.5,300.0L628.5,300.2ZM629.8,296.3L630.8,296.1L631.4,299.7L630.4,299.8ZM631.7,295.9L632.7,295.8L633.3,299.3L632.3,299.5ZM633.6,295.6L634.6,295.4L635.2,299.0L634.2,299.1ZM635.5,295.3L636.5,295.1L637.1,298.6L636.1,298.8ZM637.4,294.9L638.4,294.8L639.0,298.3L638.0,298.5ZM639.3,294.6L640.3,294.5L640.9,298.0L639.9,298.2ZM641.2,294.3L642.2,294.1L642.8,297.7L641.8,297.9ZM643.1,294.0L644.1,293.8L644.7,297.4L643.7,297.6ZM645.0,293.7L646.0,293.6L646.6,297.1L645.6,297.3ZM647.0,293.4L647.9,293.3L648.5,296.8L647.5,297.0ZM648.9,293.1L649.8,293.0L650.4,296.6L649.4,296.7ZM650.8,292.9L651.7,292.7L652.3,296.3L651.3,296.4ZM652.7,292.6L653.7,292.5L654.1,296.0L653.2,296.2ZM654.6,292.3L655.6,292.2L656.0,295.8L655.1,295.9ZM656.5,292.1L657.5,291.9L657.9,295.5L657.0,295.6ZM658.4,291.8L659.4,291.7L659.8,295.3L658.8,295.4ZM660.3,291.6L661.3,291.5L661.7,295.0L660.7,295.2ZM662.2,291.3L663.2,291.2L663.6,294.8L662.6,294.9ZM664.1,291.1L665.1,291.0L665.5,294.6L664.5,294.7ZM666.0,290.9L667.0,290.8L667.4,294.4L666.4,294.5ZM667.9,290.7L668.9,290.6L669.3,294.1L668.3,294.2ZM669.8,290.5L670.8,290.3L671.2,293.9L670.2,294.0ZM671.7,290.2L672.7,290.1L673.1,293.7L672.1,293.8ZM673.6,290.0L674.6,289.9L675.0,293.5L674.0,293.6Z" fill="#e69e9e"/>
<path d="M79.3,21.9L83.9,24.7L82.1,27.7L77.5,24.9ZM84.9,25.4L86.7,26.5L84.9,29.5L83.1,28.3ZM87.7,27.1L92.3,30.1L90.5,33.0L85.9,30.1ZM93.4,30.8L95.2,32.0L93.2,34.9L91.4,33.7ZM96.2,32.6L100.8,35.7L98.8,38.6L94.2,35.5ZM101.8,36.4L103.6,37.6L101.6,40.5L99.8,39.3ZM104.6,38.3L109.2,41.5L107.2,44.4L102.6,41.2ZM110.2,42.2L112.0,43.4L110.0,46.3L108.2,45.0ZM113.0,44.1L117.6,47.4L115.6,50.3L111.0,47.0ZM118.6,48.1L120.4,49.4L118.4,52.2L116.6,51.0ZM121.4,50.1L126.0,53.4L124.0,56.3L119.4,53.0ZM127.0,54.2L128.8,55.5L126.8,58.3L125.0,57.0ZM129.8,56.2L134.4,59.6L132.4,62.4L127.8,59.0ZM135.4,60.3L137.2,61.6L135.2,64.4L133.4,63.1ZM138.2,62.4L142.8,65.8L140.8,68.6L136.2,65.2ZM143.8,66.5L145.6,67.8L143.6,70.6L141.8,69.3ZM146.6,68.6L151.2,72.0L149.2,74.8L144.6,71.4ZM152.3,72.8L154.1,74.1L151.9,76.9L150.1,75.6ZM155.1,74.9L159.7,78.3L157.5,81.1L152.9,77.7ZM160.7,79.1L162.5,80.5L160.3,83.3L158.5,81.9ZM163.5,81.2L168.1,84.7L165.9,87.5L161.3,84.0ZM169.1,85.5L170.9,86.9L168.7,89.6L166.9,88.3ZM171.9,87.6L176.5,91.2L174.3,93.9L169.7,90.4ZM177.5,92.0L179.3,93.3L177.1,96.1L175.3,94.7ZM180.3,94.1L184.9,97.7L182.7,100.5L178.1,96.9ZM185.9,98.5L187.7,99.9L185.5,102.6L183.7,101.2ZM188.7,100.7L193.3,104.3L191.1,107.1L186.5,103.4ZM194.3,105.1L196.1,106.6L193.9,109.3L192.1,107.8ZM197.1,107.4L201.7,111.1L199.5,113.8L194.9,110.1ZM202.7,111.9L204.5,113.4L202.3,116.0L200.5,114.6ZM205.5,114.2L210.1,118.0L207.9,120.6L203.3,116.8ZM211.1,118.8L212.9,120.3L210.7,122.9L208.9,121.4ZM213.9,121.2L218.5,125.0L216.3,127.7L211.7,123.8ZM219.5,125.9L221.3,127.4L219.1,130.0L217.3,128.5ZM222.3,128.3L226.9,132.3L224.7,134.9L220.1,130.9ZM227.9,133.2L229.7,134.8L227.5,137.3L225.7,135.8ZM230.7,135.7L235.3,139.8L233.1,142.3L228.5,138.2ZM236.3,140.7L238.1,142.4L235.9,144.9L234.1,143.2ZM239.1,143.3L243.7,147.6L241.5,150.0L236.9,145.8ZM244.8,148.5L246.6,150.2L244.2,152.6L242.4,151.0ZM247.6,151.2L252.2,155.6L249.8,158.0L245.2,153.6ZM253.2,156.5L255.0,158.3L252.6,160.7L250.8,158.9ZM256.0,159.3L260.6,163.8L258.2,166.2L253.6,161.6ZM261.6,164.8L263.4,166.6L261.0,169.0L259.2,167.2ZM264.4,167.6L268.9,172.2L266.5,174.6L262.0,170.0ZM269.8,173.3L271.6,175.1L269.2,177.3L267.5,175.5ZM272.5,176.1L276.9,180.7L274.6,182.9L270.2,178.3ZM277.9,181.7L279.6,183.5L277.2,185.7L275.5,183.9ZM280.5,184.5L284.7,189.1L282.4,191.3L278.1,186.7ZM285.7,190.1L287.3,191.9L284.9,194.1L283.3,192.3ZM288.2,192.9L292.4,197.5L290.0,199.7L285.8,195.1ZM293.3,198.5L294.9,200.3L292.5,202.5L290.9,200.7ZM295.7,201.3L299.8,205.9L297.4,208.1L293.3,203.5ZM300.7,207.0L302.2,208.8L299.8,210.9L298.3,209.1ZM303.1,209.8L307.1,214.4L304.7,216.4L300.7,211.8ZM308.0,215.4L309.5,217.2L307.1,219.2L305.5,217.4ZM310.4,218.2L314.3,222.8L311.8,224.8L307.9,220.2ZM315.1,223.8L316.6,225.6L314.2,227.6L312.7,225.8ZM317.5,226.6L321.4,231.2L318.9,233.2L315.0,228.6ZM322.2,232.2L323.7,234.0L321.3,236.0L319.8,234.2ZM324.6,235.0L328.4,239.6L326.0,241.6L322.1,237.0ZM329.3,240.6L330.8,242.4L328.3,244.4L326.8,242.6ZM331.6,243.4L335.5,248.0L333.1,250.0L329.2,245.4ZM336.4,249.0L337.9,250.8L335.4,252.8L333.9,251.0ZM338.7,251.8L342.6,256.4L340.2,258.4L336.3,253.8ZM343.5,257.4L345.0,259.2L342.6,261.2L341.1,259.4ZM345.9,260.2L349.9,264.8L347.4,266.8L343.5,262.2ZM350.7,265.8L352.3,267.6L349.9,269.7L348.3,267.9ZM353.2,268.5L357.2,273.1L354.8,275.3L350.8,270.7ZM358.1,274.1L359.7,275.9L357.3,278.1L355.7,276.3ZM360.6,276.9L364.8,281.5L362.4,283.7L358.2,279.1ZM365.7,282.5L367.4,284.3L365.0,286.5L363.3,284.7ZM368.3,285.3L372.7,289.9L370.3,292.1L365.9,287.5ZM373.6,290.9L375.4,292.7L373.0,295.0L371.3,293.2ZM376.4,293.6L381.0,298.2L378.6,300.6L374.0,296.0ZM381.9,299.2L383.7,300.9L381.4,303.3L379.6,301.6ZM384.7,301.8L389.3,306.1L387.0,308.6L382.4,304.3ZM390.3,307.0L392.1,308.6L389.9,311.1L388.1,309.5ZM393.1,309.5L397.7,313.4L395.5,316.0L390.9,312.1ZM398.7,314.2L400.5,315.7L398.3,318.3L396.5,316.9ZM401.5,316.4L406.1,320.0L403.9,322.8L399.3,319.2ZM407.0,320.7L408.8,322.1L406.7,324.9L404.9,323.6ZM409.8,322.8L414.4,325.9L412.4,328.8L407.8,325.6ZM415.3,326.6L417.1,327.7L415.2,330.7L413.4,329.5ZM418.1,328.3L422.7,331.1L420.9,334.1L416.3,331.3ZM423.6,331.7L425.4,332.7L423.7,335.7L421.9,334.7ZM426.4,333.2L431.0,335.5L429.4,338.6L424.8,336.3ZM431.9,335.9L433.7,336.8L432.3,339.9L430.5,339.1ZM434.6,337.2L439.2,339.1L437.9,342.3L433.3,340.4ZM440.2,339.4L442.0,340.1L440.8,343.4L439.0,342.7ZM442.9,340.4L447.5,341.8L446.5,345.2L441.9,343.7ZM448.4,342.1L450.2,342.6L449.3,345.9L447.5,345.5ZM451.2,342.8L455.8,343.8L455.0,347.2L450.4,346.2ZM456.7,344.0L458.5,344.3L457.9,347.7L456.1,347.4ZM459.4,344.4L464.0,345.0L463.6,348.4L459.0,347.9ZM464.9,345.0L466.7,345.2L466.4,348.7L464.6,348.5ZM467.6,345.2L472.2,345.4L472.1,348.9L467.5,348.7ZM473.2,345.4L475.0,345.4L475.0,348.9L473.2,348.9ZM475.9,345.4L480.5,345.2L480.7,348.7L476.1,348.9ZM481.4,345.1L483.2,345.0L483.5,348.5L481.7,348.6ZM484.2,344.9L488.8,344.4L489.2,347.9L484.6,348.4ZM489.7,344.3L491.5,344.1L492.0,347.5L490.2,347.8ZM492.5,343.9L497.1,343.2L497.7,346.6L493.1,347.4ZM498.1,343.0L499.9,342.7L500.5,346.1L498.7,346.4ZM500.8,342.5L505.4,341.5L506.1,344.9L501.5,345.9ZM506.4,341.3L508.2,340.9L509.0,344.3L507.2,344.7ZM509.2,340.6L513.8,339.5L514.6,342.9L510.0,344.0ZM514.7,339.2L516.5,338.8L517.4,342.1L515.6,342.6ZM517.5,338.5L522.1,337.2L523.1,340.6L518.5,341.9ZM523.1,336.9L524.9,336.4L525.9,339.8L524.1,340.3ZM525.9,336.1L530.5,334.7L531.5,338.1L526.9,339.5ZM531.5,334.4L533.3,333.9L534.3,337.2L532.5,337.8ZM534.3,333.6L538.9,332.1L539.9,335.5L535.3,336.9ZM539.8,331.8L541.6,331.2L542.7,334.6L540.9,335.2ZM542.6,330.9L547.2,329.4L548.3,332.8L543.7,334.3ZM548.2,329.1L550.0,328.5L551.1,331.9L549.3,332.4ZM551.0,328.2L555.6,326.7L556.7,330.0L552.1,331.5ZM556.6,326.4L558.4,325.8L559.5,329.1L557.7,329.7ZM559.4,325.5L564.0,324.0L565.1,327.3L560.5,328.8ZM565.0,323.6L566.8,323.1L567.9,326.4L566.1,327.0ZM567.9,322.7L572.5,321.3L573.5,324.6L568.9,326.1ZM573.5,321.0L575.3,320.4L576.3,323.8L574.5,324.3ZM576.3,320.1L580.9,318.7L581.9,322.0L577.3,323.4ZM581.9,318.4L583.7,317.8L584.7,321.2L582.9,321.7ZM584.7,317.5L589.3,316.2L590.3,319.6L585.7,320.9ZM590.3,315.9L592.1,315.4L593.1,318.8L591.3,319.3ZM593.1,315.1L597.7,313.8L598.6,317.2L594.0,318.5ZM598.7,313.6L600.5,313.1L601.4,316.5L599.6,316.9ZM601.5,312.8L606.1,311.6L607.0,315.0L602.4,316.2ZM607.2,311.4L609.0,310.9L609.8,314.3L608.0,314.8ZM610.0,310.7L614.6,309.6L615.4,313.0L610.8,314.1ZM615.6,309.3L617.4,308.9L618.2,312.4L616.4,312.8ZM618.4,308.7L623.0,307.7L623.8,311.1L619.2,312.1ZM624.0,307.5L625.8,307.1L626.5,310.6L624.7,310.9ZM626.8,306.9L631.4,306.0L632.1,309.4L627.5,310.4ZM632.5,305.8L634.3,305.5L634.9,308.9L633.1,309.3ZM635.3,305.3L639.9,304.5L640.5,307.9L635.9,308.7ZM640.9,304.3L642.7,304.0L643.3,307.5L641.5,307.8ZM643.7,303.9L648.3,303.1L648.9,306.6L644.3,307.3ZM649.3,303.0L651.1,302.7L651.6,306.2L649.8,306.4ZM652.1,302.6L656.7,301.9L657.2,305.4L652.6,306.0ZM657.8,301.8L659.6,301.5L660.0,305.0L658.2,305.2ZM660.6,301.4L665.2,300.8L665.6,304.3L661.0,304.9ZM666.2,300.7L668.0,300.5L668.4,304.0L666.6,304.2ZM669.0,300.4L673.6,299.9L674.0,303.3L669.4,303.9ZM674.6,299.7L675.2,299.7L675.6,303.2L675.0,303.2Z" fill="#ff00ff"/>
<path d="M79.3,22.1L81.3,23.3L79.4,26.3L77.5,25.1ZM82.0,23.8L84.1,25.1L82.3,28.1L80.2,26.8ZM84.9,25.6L87.0,27.0L85.1,29.9L83.0,28.6ZM87.8,27.5L89.9,28.9L87.9,31.8L85.8,30.4ZM90.6,29.4L92.7,30.8L90.8,33.7L88.7,32.3ZM93.5,31.3L95.6,32.7L93.6,35.6L91.5,34.2ZM96.3,33.2L98.4,34.7L96.5,37.6L94.4,36.1ZM99.2,35.2L101.3,36.7L99.3,39.6L97.2,38.1ZM102.1,37.2L104.2,38.7L102.1,41.6L100.0,40.1ZM104.9,39.2L107.0,40.8L105.0,43.6L102.9,42.1ZM107.8,41.3L109.9,42.8L107.8,45.7L105.7,44.1ZM110.6,43.4L112.7,44.9L110.7,47.7L108.6,46.2ZM113.5,45.4L115.6,47.0L113.5,49.8L111.4,48.3ZM116.3,47.5L118.5,49.1L116.4,51.9L114.2,50.4ZM119.2,49.7L121.3,51.2L119.2,54.1L117.1,52.5ZM122.0,51.8L124.2,53.4L122.1,56.2L119.9,54.6ZM124.9,53.9L127.0,55.5L124.9,58.3L122.8,56.7ZM127.7,56.1L129.9,57.7L127.8,60.5L125.6,58.9ZM130.6,58.2L132.7,59.9L130.6,62.6L128.5,61.0ZM133.4,60.4L135.6,62.0L133.5,64.8L131.3,63.2ZM136.3,62.6L138.4,64.2L136.3,67.0L134.2,65.4ZM139.1,64.8L141.3,66.4L139.2,69.2L137.0,67.5ZM142.0,67.0L144.1,68.6L142.0,71.4L139.9,69.7ZM144.8,69.2L147.0,70.8L144.9,73.6L142.7,71.9ZM147.7,71.4L149.8,73.0L147.7,75.8L145.6,74.1ZM150.5,73.6L152.7,75.2L150.6,78.0L148.4,76.3ZM153.4,75.8L155.5,77.4L153.4,80.2L151.3,78.5ZM156.2,78.0L158.4,79.7L156.3,82.4L154.1,80.7ZM159.1,80.2L161.2,81.9L159.1,84.6L157.0,83.0ZM161.9,82.4L164.1,84.1L162.0,86.9L159.8,85.2ZM164.8,84.7L166.9,86.3L164.8,89.1L162.7,87.4ZM167.6,86.9L169.8,88.6L167.7,91.3L165.5,89.6ZM170.5,89.1L172.7,90.8L170.5,93.6L168.3,91.9ZM173.3,91.4L175.5,93.1L173.4,95.8L171.2,94.1ZM176.2,93.6L178.4,95.3L176.2,98.1L174.0,96.4ZM179.0,95.9L181.2,97.6L179.1,100.3L176.9,98.6ZM181.9,98.2L184.1,99.9L181.9,102.6L179.7,100.9ZM184.8,100.4L186.9,102.2L184.7,104.9L182.6,103.1ZM187.6,102.7L189.8,104.5L187.6,107.2L185.4,105.4ZM190.5,105.0L192.6,106.8L190.4,109.5L188.3,107.7ZM193.3,107.3L195.5,109.1L193.3,111.8L191.1,110.0ZM196.2,109.7L198.3,111.4L196.1,114.1L194.0,112.3ZM199.0,112.0L201.2,113.8L199.0,116.4L196.8,114.7ZM201.9,114.3L204.0,116.2L201.8,118.8L199.7,117.0ZM204.7,116.7L206.9,118.5L204.7,121.2L202.5,119.4ZM207.6,119.1L209.7,121.0L207.5,123.6L205.4,121.7ZM210.4,121.5L212.6,123.4L210.4,126.0L208.2,124.1ZM213.3,124.0L215.5,125.9L213.2,128.4L211.0,126.6ZM216.1,126.4L218.3,128.3L216.1,130.9L213.9,129.0ZM219.0,128.9L221.2,130.8L218.9,133.4L216.7,131.5ZM221.8,131.4L224.0,133.4L221.8,135.9L219.6,134.0ZM224.7,134.0L226.9,136.0L224.6,138.5L222.4,136.5ZM227.5,136.5L229.7,138.5L227.5,141.1L225.3,139.0ZM230.4,139.1L232.6,141.2L230.3,143.7L228.1,141.6ZM233.2,141.8L235.5,143.8L233.2,146.3L230.9,144.2ZM236.1,144.4L238.3,146.5L236.0,149.0L233.8,146.9ZM238.9,147.1L241.2,149.3L238.9,151.7L236.6,149.6ZM241.8,149.9L244.0,152.0L241.7,154.4L239.5,152.3ZM244.6,152.6L246.9,154.8L244.6,157.2L242.3,155.0ZM247.5,155.4L249.7,157.6L247.4,160.0L245.2,157.8ZM250.3,158.2L252.6,160.5L250.3,162.8L248.0,160.6ZM253.2,161.1L255.4,163.3L253.1,165.7L250.8,163.4ZM256.0,164.0L258.2,166.2L255.8,168.5L253.7,166.3ZM258.8,166.8L261.0,169.1L258.6,171.3L256.4,169.1ZM261.5,169.7L263.7,171.9L261.3,174.2L259.2,171.9ZM264.3,172.5L266.4,174.8L264.0,177.0L261.9,174.8ZM266.9,175.4L269.0,177.6L266.7,179.9L264.6,177.6ZM269.6,178.3L271.7,180.5L269.3,182.7L267.2,180.5ZM272.2,181.1L274.3,183.4L271.9,185.5L269.8,183.3ZM274.8,184.0L276.9,186.2L274.5,188.4L272.4,186.1ZM277.4,186.8L279.4,189.1L277.0,191.2L275.0,189.0ZM280.0,189.7L282.0,191.9L279.6,194.1L277.6,191.8ZM282.5,192.5L284.5,194.8L282.1,196.9L280.1,194.7ZM285.0,195.4L287.0,197.7L284.6,199.8L282.6,197.5ZM287.5,198.3L289.4,200.5L287.0,202.6L285.1,200.3ZM290.0,201.1L291.9,203.4L289.5,205.4L287.5,203.2ZM292.4,204.0L294.3,206.2L291.9,208.3L290.0,206.0ZM294.8,206.8L296.7,209.1L294.3,211.1L292.4,208.9ZM297.2,209.7L299.1,211.9L296.7,214.0L294.8,211.7ZM299.6,212.5L301.5,214.8L299.0,216.8L297.2,214.6ZM302.0,215.4L303.9,217.6L301.4,219.7L299.5,217.4ZM304.4,218.2L306.2,220.5L303.8,222.5L301.9,220.3ZM306.7,221.1L308.6,223.3L306.1,225.4L304.2,223.1ZM309.1,223.9L310.9,226.2L308.4,228.2L306.6,226.0ZM311.4,226.8L313.2,229.0L310.7,231.1L308.9,228.8ZM313.7,229.6L315.5,231.9L313.0,233.9L311.2,231.7ZM316.0,232.5L317.8,234.7L315.4,236.8L313.5,234.5ZM318.3,235.3L320.1,237.6L317.7,239.6L315.8,237.4ZM320.6,238.2L322.4,240.4L320.0,242.5L318.1,240.2ZM322.9,241.0L324.7,243.3L322.2,245.3L320.4,243.1ZM325.2,243.9L327.0,246.1L324.5,248.2L322.7,245.9ZM327.5,246.7L329.3,249.0L326.8,251.0L325.0,248.8ZM329.8,249.6L331.6,251.8L329.1,253.9L327.3,251.6ZM332.1,252.4L333.9,254.7L331.5,256.7L329.6,254.5ZM334.4,255.3L336.2,257.5L333.8,259.6L331.9,257.3ZM336.7,258.1L338.6,260.4L336.1,262.4L334.3,260.2ZM339.1,261.0L340.9,263.2L338.4,265.3L336.6,263.0ZM341.4,263.8L343.2,266.1L340.8,268.1L338.9,265.9ZM343.7,266.7L345.6,268.9L343.1,271.0L341.3,268.7ZM346.1,269.5L347.9,271.8L345.5,273.8L343.6,271.6ZM348.4,272.4L350.3,274.6L347.9,276.7L346.0,274.4ZM350.8,275.2L352.7,277.5L350.3,279.5L348.4,277.3ZM353.2,278.1L355.1,280.3L352.7,282.4L350.8,280.1ZM355.6,280.9L357.6,283.2L355.1,285.2L353.2,283.0ZM358.1,283.8L360.0,286.0L357.6,288.1L355.7,285.9ZM360.6,286.6L362.5,288.8L360.1,291.0L358.1,288.7ZM363.1,289.4L365.1,291.7L362.6,293.8L360.6,291.6ZM365.6,292.3L367.6,294.5L365.2,296.7L363.2,294.4ZM368.2,295.1L370.2,297.4L367.8,299.5L365.8,297.3ZM370.8,297.9L372.8,300.2L370.5,302.4L368.4,300.2ZM373.4,300.8L375.5,303.0L373.1,305.3L371.0,303.0ZM376.1,303.6L378.3,305.9L375.9,308.1L373.7,305.9ZM378.8,306.4L381.0,308.7L378.7,311.0L376.5,308.8ZM381.6,309.3L383.9,311.5L381.5,313.9L379.3,311.6ZM384.5,312.1L386.7,314.3L384.4,316.7L382.2,314.5ZM387.3,314.8L389.6,316.9L387.3,319.4L385.0,317.3ZM390.2,317.5L392.4,319.6L390.1,322.0L387.9,320.0ZM393.0,320.1L395.2,322.1L393.0,324.6L390.8,322.6ZM395.9,322.6L398.1,324.5L395.8,327.1L393.6,325.2ZM398.7,325.1L400.9,326.9L398.7,329.5L396.5,327.7ZM401.5,327.4L403.7,329.2L401.5,331.9L399.4,330.1ZM404.4,329.7L406.5,331.4L404.4,334.1L402.2,332.5ZM407.2,331.9L409.4,333.5L407.3,336.3L405.1,334.7ZM410.1,334.0L412.2,335.6L410.1,338.4L408.0,336.9ZM412.9,336.1L415.0,337.5L413.0,340.4L410.9,339.0ZM415.7,338.0L417.8,339.4L415.9,342.3L413.8,340.9ZM418.5,339.9L420.6,341.2L418.8,344.1L416.7,342.8ZM421.3,341.6L423.4,342.9L421.6,345.9L419.6,344.6ZM424.2,343.3L426.2,344.5L424.5,347.5L422.5,346.4ZM427.0,344.9L429.0,346.0L427.4,349.1L425.3,348.0ZM429.8,346.4L431.8,347.4L430.3,350.5L428.2,349.5ZM432.6,347.8L434.6,348.7L433.2,351.9L431.1,350.9ZM435.4,349.0L437.4,349.9L436.0,353.1L434.0,352.3ZM438.2,350.2L440.2,351.0L438.9,354.3L437.0,353.5ZM441.1,351.3L443.0,352.1L441.8,355.4L439.9,354.6ZM443.9,352.4L445.8,353.0L444.7,356.3L442.8,355.7ZM446.7,353.3L448.6,353.8L447.6,357.2L445.7,356.6ZM449.5,354.1L451.4,354.6L450.5,358.0L448.6,357.5ZM452.3,354.8L454.2,355.2L453.4,358.6L451.5,358.2ZM455.1,355.4L457.0,355.8L456.3,359.2L454.4,358.9ZM457.9,356.0L459.8,356.3L459.2,359.7L457.3,359.4ZM460.7,356.4L462.5,356.6L462.1,360.1L460.2,359.9ZM463.5,356.8L465.3,356.9L465.0,360.4L463.1,360.2ZM466.3,357.0L468.1,357.1L467.9,360.6L466.0,360.5ZM469.1,357.2L470.9,357.3L470.8,360.8L469.0,360.7ZM471.9,357.3L473.7,357.3L473.7,360.8L471.9,360.8ZM474.7,357.3L476.5,357.3L476.6,360.8L474.8,360.8ZM477.5,357.3L479.3,357.2L479.5,360.7L477.7,360.8ZM480.3,357.2L482.1,357.0L482.4,360.5L480.5,360.6ZM483.1,357.0L485.0,356.8L485.3,360.3L483.4,360.5ZM485.9,356.7L487.8,356.5L488.2,360.0L486.3,360.2ZM488.7,356.4L490.6,356.2L491.0,359.6L489.2,359.9ZM491.5,356.0L493.4,355.7L493.9,359.2L492.1,359.5ZM494.4,355.6L496.2,355.3L496.8,358.7L494.9,359.0ZM497.2,355.1L499.1,354.8L499.7,358.2L497.8,358.6ZM500.0,354.6L501.9,354.2L502.6,357.6L500.7,358.0ZM502.8,354.0L504.7,353.6L505.5,357.0L503.6,357.4ZM505.6,353.4L507.5,352.9L508.3,356.4L506.4,356.8ZM508.5,352.7L510.4,352.3L511.2,355.7L509.3,356.1ZM511.3,352.0L513.2,351.5L514.1,354.9L512.2,355.4ZM514.1,351.3L516.0,350.8L517.0,354.2L515.0,354.7ZM517.0,350.5L518.9,350.0L519.8,353.4L517.9,353.9ZM519.8,349.7L521.7,349.2L522.7,352.5L520.8,353.1ZM522.6,348.9L524.6,348.3L525.6,351.7L523.6,352.3ZM525.5,348.1L527.4,347.5L528.4,350.8L526.5,351.4ZM528.3,347.2L530.2,346.6L531.3,349.9L529.3,350.5ZM531.1,346.3L533.1,345.7L534.1,349.0L532.2,349.6ZM534.0,345.4L535.9,344.8L537.0,348.1L535.1,348.7ZM536.8,344.5L538.8,343.8L539.9,347.2L537.9,347.8ZM539.7,343.5L541.6,342.9L542.7,346.2L540.8,346.9ZM542.5,342.6L544.5,341.9L545.6,345.3L543.6,345.9ZM545.4,341.6L547.3,341.0L548.4,344.3L546.5,345.0ZM548.2,340.7L550.2,340.0L551.3,343.3L549.3,344.0ZM551.0,339.7L553.0,339.1L554.1,342.4L552.2,343.0ZM553.9,338.7L555.9,338.1L557.0,341.4L555.0,342.1ZM556.7,337.8L558.7,337.1L559.8,340.4L557.9,341.1ZM559.6,336.8L561.6,336.1L562.7,339.5L560.7,340.1ZM562.5,335.8L564.4,335.2L565.5,338.5L563.6,339.1ZM565.3,334.9L567.3,334.2L568.4,337.5L566.4,338.2ZM568.2,333.9L570.1,333.3L571.2,336.6L569.3,337.2ZM571.0,333.0L573.0,332.3L574.1,335.6L572.1,336.3ZM573.9,332.0L575.8,331.4L576.9,334.7L575.0,335.3ZM576.7,331.1L578.7,330.4L579.8,333.8L577.8,334.4ZM579.6,330.1L581.5,329.5L582.6,332.9L580.7,333.5ZM582.4,329.2L584.4,328.6L585.4,331.9L583.5,332.6ZM585.3,328.3L587.2,327.7L588.3,331.1L586.3,331.7ZM588.2,327.4L590.1,326.8L591.1,330.2L589.2,330.8ZM591.0,326.6L593.0,326.0L594.0,329.3L592.0,329.9ZM593.9,325.7L595.8,325.1L596.8,328.5L594.9,329.1ZM596.7,324.9L598.7,324.3L599.6,327.7L597.7,328.2ZM599.6,324.0L601.5,323.5L602.5,326.9L600.6,327.4ZM602.5,323.2L604.4,322.7L605.3,326.1L603.4,326.6ZM605.3,322.5L607.2,321.9L608.2,325.3L606.2,325.8ZM608.2,321.7L610.1,321.2L611.0,324.6L609.1,325.1ZM611.1,320.9L613.0,320.5L613.8,323.8L611.9,324.3ZM613.9,320.2L615.8,319.7L616.7,323.1L614.8,323.6ZM616.8,319.5L618.7,319.1L619.5,322.5L617.6,322.9ZM619.6,318.8L621.5,318.4L622.3,321.8L620.4,322.2ZM622.5,318.2L624.4,317.7L625.2,321.2L623.3,321.6ZM625.4,317.5L627.3,317.1L628.0,320.5L626.1,321.0ZM628.2,316.9L630.1,316.5L630.8,320.0L628.9,320.3ZM631.1,316.3L633.0,315.9L633.7,319.4L631.8,319.8ZM634.0,315.8L635.9,315.4L636.5,318.8L634.6,319.2ZM636.8,315.2L638.7,314.9L639.4,318.3L637.5,318.6ZM639.7,314.7L641.6,314.3L642.2,317.8L640.3,318.1ZM642.6,314.2L644.4,313.9L645.0,317.3L643.1,317.6ZM645.4,313.7L647.3,313.4L647.9,316.8L646.0,317.1ZM648.3,313.2L650.2,312.9L650.7,316.4L648.8,316.7ZM651.1,312.8L653.0,312.5L653.5,316.0L651.7,316.2ZM654.0,312.4L655.9,312.1L656.4,315.6L654.5,315.8ZM656.9,312.0L658.7,311.7L659.2,315.2L657.3,315.4ZM659.7,311.6L661.6,311.3L662.0,314.8L660.2,315.1ZM662.6,311.2L664.5,311.0L664.9,314.5L663.0,314.7ZM665.5,310.9L667.3,310.7L667.7,314.1L665.9,314.3ZM668.3,310.5L670.2,310.3L670.6,313.8L668.7,314.0ZM671.2,310.2L673.0,310.0L673.4,313.5L671.5,313.7ZM674.0,309.9L675.2,309.8L675.6,313.3L674.4,313.4Z" fill="#000000"/>
<path d="M79.4,22.2L81.6,23.6L79.7,26.5L77.4,25.1ZM83.3,24.7L85.7,26.4L83.7,29.3L81.3,27.6ZM87.3,27.5L89.7,29.2L87.7,32.0L85.3,30.4ZM91.4,30.3L93.8,32.0L91.8,34.9L89.4,33.2ZM95.4,33.2L97.9,34.9L95.8,37.8L93.4,36.0ZM99.5,36.1L101.9,37.9L99.9,40.7L97.4,38.9ZM103.6,39.1L106.0,40.9L103.9,43.7L101.5,41.9ZM107.6,42.1L110.0,43.9L107.9,46.7L105.5,44.9ZM111.7,45.2L114.1,47.0L112.0,49.8L109.5,47.9ZM115.7,48.3L118.2,50.1L116.0,52.9L113.6,51.0ZM119.8,51.4L122.2,53.3L120.1,56.0L117.6,54.1ZM123.8,54.5L126.3,56.4L124.1,59.2L121.7,57.3ZM127.9,57.7L130.3,59.6L128.2,62.4L125.7,60.4ZM131.9,60.9L134.4,62.9L132.2,65.6L129.8,63.6ZM136.0,64.1L138.4,66.1L136.3,68.8L133.8,66.8ZM140.0,67.4L142.5,69.3L140.3,72.0L137.9,70.1ZM144.1,70.6L146.5,72.6L144.4,75.3L141.9,73.3ZM148.1,73.9L150.6,75.9L148.4,78.6L146.0,76.6ZM152.2,77.2L154.6,79.2L152.5,81.9L150.0,79.9ZM156.2,80.5L158.7,82.5L156.5,85.2L154.0,83.2ZM160.3,83.8L162.8,85.8L160.6,88.5L158.1,86.5ZM164.3,87.1L166.8,89.2L164.6,91.8L162.1,89.8ZM168.4,90.5L170.9,92.5L168.7,95.2L166.2,93.1ZM172.4,93.9L174.9,95.9L172.7,98.6L170.2,96.5ZM176.5,97.2L179.0,99.3L176.8,102.0L174.3,99.9ZM180.5,100.6L183.0,102.7L180.8,105.4L178.3,103.3ZM184.6,104.1L187.1,106.2L184.9,108.8L182.4,106.7ZM188.6,107.5L191.1,109.6L188.9,112.2L186.4,110.1ZM192.7,111.0L195.2,113.1L193.0,115.7L190.5,113.6ZM196.7,114.5L199.2,116.7L197.0,119.2L194.5,117.1ZM200.8,118.0L203.3,120.2L201.1,122.8L198.6,120.6ZM204.9,121.6L207.4,123.8L205.1,126.3L202.6,124.1ZM208.9,125.2L211.4,127.4L209.1,130.0L206.6,127.7ZM213.0,128.8L215.5,131.1L213.2,133.6L210.7,131.3ZM217.0,132.5L219.5,134.8L217.2,137.3L214.7,135.0ZM221.1,136.2L223.6,138.6L221.3,141.1L218.8,138.7ZM225.1,140.0L227.6,142.4L225.3,144.8L222.8,142.5ZM229.2,143.8L231.7,146.3L229.4,148.7L226.9,146.3ZM233.2,147.7L235.8,150.2L233.4,152.6L230.9,150.1ZM237.3,151.7L239.8,154.2L237.5,156.5L234.9,154.0ZM241.3,155.7L243.9,158.2L241.5,160.6L239.0,158.0ZM245.4,159.7L247.9,162.3L245.6,164.6L243.0,162.0ZM249.4,163.8L251.9,166.3L249.5,168.6L247.0,166.1ZM253.3,167.8L255.8,170.4L253.4,172.7L250.9,170.1ZM257.2,171.9L259.6,174.5L257.3,176.7L254.8,174.1ZM261.0,176.0L263.4,178.5L261.0,180.7L258.7,178.2ZM264.8,180.0L267.2,182.6L264.8,184.8L262.4,182.2ZM268.5,184.1L270.9,186.6L268.5,188.8L266.2,186.3ZM272.2,188.1L274.5,190.7L272.1,192.9L269.8,190.3ZM275.9,192.2L278.1,194.8L275.7,196.9L273.5,194.3ZM279.5,196.3L281.7,198.8L279.3,200.9L277.0,198.4ZM283.0,200.3L285.2,202.9L282.8,205.0L280.6,202.4ZM286.5,204.4L288.7,206.9L286.3,209.0L284.1,206.5ZM290.0,208.4L292.1,211.0L289.7,213.1L287.5,210.5ZM293.4,212.5L295.5,215.1L293.1,217.1L290.9,214.6ZM296.8,216.6L298.9,219.1L296.5,221.2L294.3,218.6ZM300.1,220.6L302.3,223.2L299.8,225.2L297.7,222.6ZM303.5,224.7L305.6,227.2L303.1,229.2L301.0,226.7ZM306.8,228.7L308.9,231.3L306.4,233.3L304.3,230.7ZM310.1,232.8L312.1,235.3L309.6,237.3L307.6,234.8ZM313.3,236.8L315.4,239.4L312.9,241.4L310.8,238.8ZM316.5,240.9L318.6,243.4L316.1,245.4L314.0,242.9ZM319.8,244.9L321.8,247.5L319.3,249.5L317.3,246.9ZM323.0,249.0L325.0,251.5L322.5,253.5L320.5,251.0ZM326.2,253.0L328.2,255.6L325.7,257.6L323.7,255.0ZM329.4,257.1L331.4,259.6L328.9,261.6L326.8,259.1ZM332.6,261.1L334.6,263.7L332.1,265.7L330.0,263.1ZM335.7,265.2L337.8,267.7L335.3,269.7L333.2,267.2ZM338.9,269.2L341.0,271.8L338.5,273.8L336.4,271.2ZM342.1,273.3L344.2,275.8L341.7,277.8L339.6,275.3ZM345.4,277.3L347.4,279.9L344.9,281.9L342.9,279.3ZM348.6,281.4L350.6,283.9L348.2,285.9L346.1,283.4ZM351.8,285.4L353.9,288.0L351.4,290.0L349.4,287.4ZM355.1,289.5L357.2,292.0L354.7,294.0L352.6,291.5ZM358.4,293.5L360.5,296.1L358.1,298.1L356.0,295.5ZM361.8,297.5L363.9,300.1L361.5,302.2L359.3,299.6ZM365.2,301.6L367.3,304.2L364.9,306.2L362.7,303.7ZM368.6,305.6L370.8,308.2L368.4,310.3L366.2,307.7ZM372.1,309.7L374.4,312.2L372.0,314.3L369.7,311.8ZM375.7,313.7L378.0,316.3L375.6,318.4L373.3,315.9ZM379.3,317.7L381.7,320.3L379.3,322.5L377.0,319.9ZM383.1,321.7L385.5,324.3L383.2,326.6L380.7,324.0ZM387.0,325.8L389.5,328.3L387.1,330.6L384.6,328.1ZM391.0,329.8L393.5,332.3L391.2,334.7L388.6,332.2ZM395.0,333.7L397.5,336.0L395.3,338.5L392.7,336.1ZM399.1,337.4L401.6,339.6L399.3,342.2L396.8,339.9ZM403.1,340.9L405.6,343.0L403.4,345.7L400.9,343.6ZM407.1,344.3L409.6,346.2L407.4,349.0L405.0,347.0ZM411.2,347.4L413.6,349.3L411.5,352.1L409.1,350.2ZM415.2,350.4L417.6,352.1L415.6,355.0L413.2,353.3ZM419.2,353.2L421.6,354.7L419.7,357.6L417.3,356.1ZM423.2,355.7L425.6,357.1L423.8,360.1L421.4,358.7ZM427.2,358.1L429.5,359.3L427.9,362.4L425.5,361.1ZM431.2,360.2L433.5,361.3L432.0,364.5L429.7,363.3ZM435.2,362.1L437.5,363.1L436.1,366.3L433.8,365.3ZM439.2,363.8L441.4,364.7L440.2,367.9L437.9,367.1ZM443.2,365.3L445.4,366.1L444.3,369.4L442.1,368.6ZM447.2,366.6L449.4,367.2L448.4,370.6L446.2,370.0ZM451.1,367.7L453.3,368.2L452.5,371.6L450.3,371.1ZM455.1,368.6L457.3,369.0L456.6,372.4L454.5,372.0ZM459.1,369.3L461.2,369.6L460.8,373.1L458.6,372.8ZM463.1,369.8L465.2,370.0L464.9,373.5L462.8,373.3ZM467.1,370.1L469.2,370.2L469.0,373.7L466.9,373.6ZM471.1,370.3L473.1,370.3L473.1,373.8L471.0,373.8ZM475.1,370.3L477.1,370.3L477.2,373.8L475.1,373.8ZM479.0,370.2L481.1,370.1L481.3,373.5L479.3,373.7ZM483.0,369.9L485.1,369.7L485.4,373.2L483.3,373.4ZM487.0,369.5L489.1,369.2L489.6,372.7L487.4,373.0ZM491.0,369.0L493.1,368.6L493.7,372.1L491.5,372.4ZM495.0,368.3L497.1,367.9L497.8,371.4L495.6,371.8ZM499.0,367.6L501.2,367.1L501.9,370.6L499.7,371.0ZM503.0,366.8L505.2,366.3L505.9,369.7L503.8,370.2ZM507.0,365.8L509.2,365.3L510.0,368.7L507.9,369.2ZM511.0,364.8L513.2,364.3L514.1,367.7L511.9,368.2ZM515.1,363.8L517.3,363.2L518.2,366.5L516.0,367.1ZM519.1,362.6L521.3,362.0L522.3,365.4L520.1,366.0ZM523.1,361.5L525.3,360.8L526.3,364.2L524.1,364.8ZM527.2,360.2L529.4,359.6L530.4,362.9L528.2,363.6ZM531.2,359.0L533.4,358.3L534.5,361.6L532.3,362.3ZM535.2,357.7L537.4,357.0L538.5,360.3L536.3,361.0ZM539.3,356.4L541.5,355.6L542.6,358.9L540.4,359.7ZM543.3,355.0L545.5,354.3L546.6,357.6L544.4,358.3ZM547.4,353.6L549.6,352.9L550.7,356.2L548.5,357.0ZM551.4,352.3L553.6,351.5L554.8,354.8L552.5,355.6ZM555.5,350.9L557.7,350.1L558.8,353.5L556.6,354.2ZM559.5,349.5L561.7,348.8L562.9,352.1L560.6,352.8ZM563.6,348.2L565.8,347.4L566.9,350.7L564.7,351.5ZM567.6,346.8L569.8,346.1L570.9,349.4L568.7,350.1ZM571.7,345.4L573.9,344.7L575.0,348.0L572.8,348.8ZM575.7,344.1L577.9,343.4L579.0,346.7L576.8,347.4ZM579.8,342.8L582.0,342.1L583.1,345.4L580.9,346.1ZM583.9,341.5L586.1,340.8L587.1,344.2L584.9,344.9ZM587.9,340.2L590.1,339.6L591.1,342.9L588.9,343.6ZM592.0,339.0L594.2,338.4L595.2,341.7L593.0,342.4ZM596.0,337.8L598.2,337.2L599.2,340.5L597.0,341.2ZM600.1,336.6L602.3,336.0L603.3,339.4L601.1,340.0ZM604.2,335.5L606.4,334.9L607.3,338.3L605.1,338.9ZM608.2,334.4L610.4,333.8L611.3,337.2L609.1,337.8ZM612.3,333.3L614.5,332.8L615.4,336.1L613.2,336.7ZM616.4,332.3L618.6,331.7L619.4,335.1L617.2,335.7ZM620.4,331.3L622.6,330.8L623.4,334.2L621.3,334.7ZM624.5,330.3L626.7,329.8L627.5,333.2L625.3,333.7ZM628.6,329.4L630.7,328.9L631.5,332.3L629.3,332.8ZM632.6,328.5L634.8,328.1L635.5,331.5L633.4,331.9ZM636.7,327.7L638.9,327.2L639.6,330.6L637.4,331.1ZM640.8,326.8L642.9,326.4L643.6,329.8L641.4,330.3ZM644.8,326.0L647.0,325.6L647.6,329.1L645.5,329.5ZM648.9,325.3L651.0,324.9L651.7,328.3L649.5,328.7ZM653.0,324.6L655.1,324.2L655.7,327.6L653.6,328.0ZM657.0,323.9L659.2,323.5L659.7,326.9L657.6,327.3ZM661.1,323.2L663.2,322.8L663.8,326.3L661.6,326.6ZM665.1,322.5L667.3,322.2L667.8,325.6L665.7,326.0ZM669.2,321.9L671.3,321.5L671.9,325.0L669.7,325.3ZM673.2,321.2L675.1,320.9L675.7,324.4L673.8,324.7Z" fill="#00ff00"/>
</g>
<g fill="none" stroke-width="1.25" stroke-linecap="square"><path d="M81.4,474.35V9.05" stroke="#585858"/><path d="M81.4,9.05H672.4" stroke="#606060"/><path d="M81.4,474.35H672.4" stroke="#4a4a4a"/><path d="M672.4,9.05V474.35" stroke="#363636"/></g>
<path d="M194.5,474.35v-6.3M194.5,9.05v6.3M314.0,474.35v-6.3M314.0,9.05v6.3M433.4,474.35v-6.3M433.4,9.05v6.3M552.6,474.35v-6.3M552.6,9.05v6.3M81.4,102.1h6M672.4,102.1h-6M81.4,195.2h6M672.4,195.2h-6M81.4,288.2h6M672.4,288.2h-6M81.4,381.3h6M672.4,381.3h-6" stroke="#383838" stroke-width="1.15" fill="none"/>
<g font-size="25" text-anchor="middle">
<text x="194.5" y="503">2</text>
<text x="314.0" y="503">4</text>
<text x="433.4" y="503">6</text>
<text x="552.6" y="503">8</text>
<text x="672.5" y="503">10</text>
</g>
<g font-size="25" text-anchor="end" letter-spacing="0.4">
<text x="76.1" y="18.2">1</text>
<text x="76.1" y="111.3">0.9</text>
<text x="76.1" y="204.4">0.8</text>
<text x="76.1" y="297.4">0.7</text>
<text x="76.1" y="390.5">0.6</text>
<text x="76.1" y="483.6">0.5</text>
</g>
<text x="376.9" y="530.5" font-size="25" letter-spacing="0.3" text-anchor="middle">Frequency (PHz)</text>
<text transform="translate(19.6,258.9) rotate(-90)" font-size="26">S<tspan font-size="20" dx="-0.5" dy="12">21</tspan></text>
<rect x="536.8" y="18.2" width="126.7" height="137.3" fill="#fff" stroke="#303030" stroke-width="1.1"/>
<path d="M547.0,32.3H599V35.7H547.0Z" fill="#0000ff"/>
<text x="604.7" y="41.5" font-size="22.3" letter-spacing="-0.3">D=10</text>
<path d="M546.3,58.4H599V62.0H546.3Z" fill="#fbe9e9"/>
<path d="M546.3,58.4H547.2V62.0H546.3ZM548.2,58.4H549.1V62.0H548.2ZM550.1,58.4H551.0V62.0H550.1ZM552.0,58.4H552.9V62.0H552.0ZM553.9,58.4H554.8V62.0H553.9ZM555.8,58.4H556.7V62.0H555.8ZM557.7,58.4H558.6V62.0H557.7ZM559.6,58.4H560.5V62.0H559.6ZM561.5,58.4H562.4V62.0H561.5ZM563.4,58.4H564.3V62.0H563.4ZM565.3,58.4H566.2V62.0H565.3ZM567.2,58.4H568.1V62.0H567.2ZM569.1,58.4H570.0V62.0H569.1ZM571.0,58.4H571.9V62.0H571.0ZM572.9,58.4H573.8V62.0H572.9ZM574.8,58.4H575.7V62.0H574.8ZM576.7,58.4H577.6V62.0H576.7ZM578.6,58.4H579.5V62.0H578.6ZM580.5,58.4H581.4V62.0H580.5ZM582.4,58.4H583.3V62.0H582.4ZM584.3,58.4H585.2V62.0H584.3ZM586.2,58.4H587.1V62.0H586.2ZM588.1,58.4H589.0V62.0H588.1ZM590.0,58.4H590.9V62.0H590.0ZM591.9,58.4H592.8V62.0H591.9ZM593.8,58.4H594.7V62.0H593.8ZM595.7,58.4H596.6V62.0H595.7ZM597.6,58.4H598.5V62.0H597.6Z" fill="#e69e9e"/>
<text x="604.7" y="67.7" font-size="22.3" letter-spacing="-0.3">D=20</text>
<path d="M548.0,84.7H549.9V88.3H548.0ZM550.8,84.7H552.7V88.3H550.8ZM553.6,84.7H555.5V88.3H553.6ZM556.4,84.7H558.3V88.3H556.4ZM559.2,84.7H561.1V88.3H559.2ZM562.0,84.7H563.9V88.3H562.0ZM564.8,84.7H566.7V88.3H564.8ZM567.6,84.7H569.5V88.3H567.6ZM570.4,84.7H572.3V88.3H570.4ZM573.2,84.7H575.1V88.3H573.2ZM576.0,84.7H577.9V88.3H576.0ZM578.8,84.7H580.7V88.3H578.8ZM581.6,84.7H583.5V88.3H581.6ZM584.4,84.7H586.3V88.3H584.4ZM587.2,84.7H589.1V88.3H587.2ZM590.0,84.7H591.9V88.3H590.0ZM592.8,84.7H594.7V88.3H592.8ZM595.6,84.7H597.5V88.3H595.6ZM598.4,84.7H599.0V88.3H598.4Z" fill="#ff00ff"/>
<text x="604.7" y="94.0" font-size="22.3" letter-spacing="-0.3">D=40</text>
<path d="M548.0,111.0H549.8V114.6H548.0ZM550.9,111.0H552.6V114.6H550.9ZM553.7,111.0H555.5V114.6H553.7ZM556.6,111.0H558.4V114.6H556.6ZM559.4,111.0H561.2V114.6H559.4ZM562.3,111.0H564.1V114.6H562.3ZM565.1,111.0H566.9V114.6H565.1ZM568.0,111.0H569.8V114.6H568.0ZM570.8,111.0H572.6V114.6H570.8ZM573.7,111.0H575.5V114.6H573.7ZM576.5,111.0H578.3V114.6H576.5ZM579.4,111.0H581.2V114.6H579.4ZM582.2,111.0H584.0V114.6H582.2ZM585.1,111.0H586.9V114.6H585.1ZM587.9,111.0H589.7V114.6H587.9ZM590.8,111.0H592.6V114.6H590.8ZM593.6,111.0H595.4V114.6H593.6ZM596.5,111.0H598.3V114.6H596.5Z" fill="#000000"/>
<text x="604.7" y="120.3" font-size="22.3" letter-spacing="-0.3">D=60</text>
<path d="M547.0,137.3H599V140.9H547.0Z" fill="#dffcdf"/>
<path d="M547.0,137.3H549.0V140.9H547.0ZM551.0,137.3H553.1V140.9H551.0ZM555.1,137.3H557.1V140.9H555.1ZM559.1,137.3H561.2V140.9H559.1ZM563.2,137.3H565.2V140.9H563.2ZM567.2,137.3H569.3V140.9H567.2ZM571.3,137.3H573.3V140.9H571.3ZM575.3,137.3H577.4V140.9H575.3ZM579.4,137.3H581.4V140.9H579.4ZM583.4,137.3H585.5V140.9H583.4ZM587.5,137.3H589.5V140.9H587.5ZM591.5,137.3H593.6V140.9H591.5ZM595.6,137.3H597.6V140.9H595.6Z" fill="#00ff00"/>
<text x="604.7" y="146.6" font-size="22.3" letter-spacing="-0.3">D=80</text>
</svg></body></html>
